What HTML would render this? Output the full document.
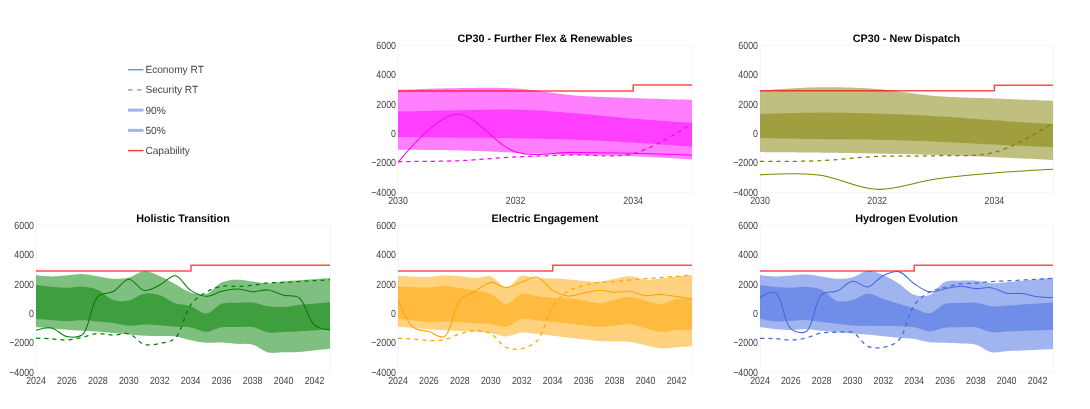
<!DOCTYPE html>
<html><head><meta charset="utf-8"><style>
html,body{margin:0;padding:0;background:#fff;overflow:hidden;}
svg{display:block;font-family:"Liberation Sans", sans-serif;} svg{will-change:transform;} text{text-rendering:geometricPrecision;}
</style></head><body>
<svg width="1090" height="409" viewBox="0 0 1090 409">
<clipPath id="c_ff"><rect x="398" y="39" width="294" height="153"/></clipPath>
<rect x="398.3" y="45.4" width="294" height="147" fill="none" stroke="#f5f5f5" stroke-width="1"/>
<g clip-path="url(#c_ff)"><path d="M398.00,89.90 L402.82,89.72 L407.49,89.55 L412.01,89.38 L416.37,89.23 L420.59,89.09 L424.64,88.95 L428.55,88.83 L432.30,88.72 L435.90,88.62 L439.34,88.52 L442.64,88.44 L445.77,88.36 L448.76,88.30 L451.59,88.25 L454.27,88.20 L456.80,88.17 L460.48,88.12 L464.15,88.07 L467.83,88.01 L471.50,87.96 L475.18,87.90 L478.86,87.86 L482.53,87.82 L486.21,87.80 L489.89,87.80 L493.56,87.81 L497.24,87.85 L500.91,87.92 L504.59,88.01 L508.26,88.14 L511.93,88.31 L515.60,88.51 L519.28,88.77 L522.96,89.09 L526.64,89.46 L530.31,89.88 L533.98,90.33 L537.66,90.81 L541.33,91.31 L545.00,91.83 L548.67,92.35 L552.35,92.86 L556.02,93.36 L559.69,93.85 L563.37,94.30 L567.04,94.73 L570.72,95.10 L574.40,95.43 L578.07,95.71 L581.74,95.97 L585.41,96.20 L589.09,96.41 L592.76,96.59 L596.44,96.76 L600.11,96.92 L603.79,97.06 L607.46,97.19 L611.14,97.32 L614.82,97.44 L618.49,97.56 L622.17,97.67 L625.85,97.79 L629.52,97.92 L633.20,98.05 L635.73,98.14 L638.41,98.24 L641.24,98.33 L644.22,98.43 L647.36,98.53 L650.65,98.64 L654.10,98.74 L657.70,98.85 L661.45,98.96 L665.35,99.07 L669.41,99.19 L673.62,99.31 L677.99,99.43 L682.51,99.55 L687.18,99.67 L692.00,99.80 L692.00,159.40 L687.18,159.10 L682.51,158.81 L677.99,158.53 L673.63,158.27 L669.42,158.02 L665.36,157.79 L661.45,157.57 L657.70,157.36 L654.10,157.17 L650.66,156.99 L647.37,156.82 L644.23,156.67 L641.24,156.53 L638.41,156.40 L635.73,156.29 L633.20,156.19 L629.53,156.06 L625.85,155.95 L622.18,155.86 L618.50,155.78 L614.83,155.71 L611.15,155.65 L607.48,155.59 L603.80,155.54 L600.13,155.49 L596.45,155.44 L592.77,155.39 L589.10,155.33 L585.42,155.27 L581.75,155.19 L578.07,155.10 L574.40,155.00 L570.72,154.88 L567.05,154.76 L563.37,154.63 L559.70,154.49 L556.02,154.35 L552.35,154.20 L548.67,154.05 L545.00,153.90 L541.32,153.74 L537.65,153.58 L533.97,153.42 L530.30,153.26 L526.62,153.11 L522.95,152.95 L519.27,152.80 L515.60,152.65 L511.93,152.50 L508.25,152.34 L504.58,152.18 L500.90,152.02 L497.23,151.86 L493.55,151.69 L489.88,151.53 L486.20,151.36 L482.53,151.21 L478.85,151.05 L475.18,150.91 L471.50,150.77 L467.83,150.64 L464.15,150.51 L460.48,150.41 L456.80,150.31 L454.27,150.25 L451.59,150.20 L448.76,150.15 L445.78,150.10 L442.64,150.06 L439.35,150.02 L435.90,149.98 L432.30,149.95 L428.55,149.91 L424.65,149.89 L420.59,149.86 L416.38,149.85 L412.01,149.83 L407.49,149.82 L402.82,149.81 L398.00,149.80Z" fill="rgba(255,0,255,0.5)"/><path d="M398.00,111.60 L402.82,111.48 L407.49,111.37 L412.01,111.26 L416.37,111.16 L420.59,111.06 L424.64,110.97 L428.55,110.88 L432.30,110.80 L435.90,110.72 L439.34,110.65 L442.64,110.58 L445.77,110.51 L448.76,110.46 L451.59,110.40 L454.27,110.35 L456.80,110.31 L460.47,110.24 L464.15,110.17 L467.83,110.08 L471.50,110.00 L475.18,109.91 L478.85,109.82 L482.53,109.74 L486.20,109.66 L489.88,109.59 L493.55,109.54 L497.23,109.50 L500.90,109.48 L504.58,109.48 L508.25,109.50 L511.93,109.54 L515.60,109.62 L519.28,109.72 L522.95,109.85 L526.63,110.00 L530.31,110.17 L533.98,110.36 L537.66,110.57 L541.33,110.80 L545.01,111.03 L548.68,111.28 L552.36,111.54 L556.03,111.81 L559.71,112.08 L563.38,112.36 L567.05,112.64 L570.73,112.93 L574.40,113.21 L578.08,113.50 L581.75,113.81 L585.43,114.13 L589.10,114.47 L592.78,114.81 L596.45,115.17 L600.13,115.53 L603.80,115.89 L607.48,116.25 L611.15,116.62 L614.82,116.98 L618.50,117.33 L622.17,117.68 L625.85,118.01 L629.52,118.34 L633.20,118.65 L635.73,118.86 L638.40,119.07 L641.24,119.29 L644.22,119.52 L647.36,119.76 L650.65,120.00 L654.10,120.26 L657.70,120.52 L661.45,120.79 L665.35,121.06 L669.41,121.35 L673.62,121.64 L677.99,121.94 L682.50,122.25 L687.18,122.57 L692.00,122.89 L692.00,146.70 L687.18,146.34 L682.51,146.00 L677.99,145.67 L673.63,145.35 L669.42,145.05 L665.36,144.76 L661.45,144.48 L657.70,144.22 L654.10,143.97 L650.66,143.73 L647.37,143.51 L644.23,143.30 L641.24,143.11 L638.41,142.93 L635.73,142.76 L633.20,142.61 L629.53,142.39 L625.85,142.18 L622.18,141.97 L618.50,141.76 L614.83,141.56 L611.15,141.36 L607.48,141.17 L603.80,140.98 L600.13,140.80 L596.45,140.62 L592.78,140.45 L589.10,140.28 L585.43,140.12 L581.75,139.97 L578.08,139.82 L574.40,139.68 L570.73,139.55 L567.05,139.42 L563.38,139.30 L559.70,139.19 L556.03,139.09 L552.35,138.99 L548.68,138.89 L545.00,138.80 L541.33,138.72 L537.65,138.64 L533.98,138.56 L530.30,138.49 L526.63,138.42 L522.95,138.35 L519.28,138.28 L515.60,138.22 L511.93,138.16 L508.25,138.10 L504.58,138.06 L500.90,138.01 L497.23,137.97 L493.55,137.94 L489.88,137.90 L486.20,137.87 L482.53,137.84 L478.85,137.82 L475.18,137.79 L471.50,137.76 L467.83,137.73 L464.15,137.70 L460.48,137.67 L456.80,137.63 L454.27,137.60 L451.59,137.58 L448.76,137.55 L445.77,137.51 L442.64,137.48 L439.34,137.45 L435.90,137.41 L432.30,137.37 L428.55,137.33 L424.64,137.29 L420.59,137.24 L416.37,137.20 L412.01,137.15 L407.49,137.10 L402.82,137.05 L398.00,137.00Z" fill="rgba(255,0,255,0.5)"/><polyline points="398.00,91.00 633.20,91.00 633.20,85.10 692.00,85.10" fill="none" stroke="#ff0000" stroke-opacity="0.7" stroke-width="1.5"/><path d="M398.00,162.43 Q436.76,115.50 456.80,114.32 C476.00,113.19 495.09,145.79 515.60,151.88 C534.43,157.47 554.80,152.16 574.40,152.40 C594.00,152.65 613.60,152.87 633.20,153.35 Q652.80,153.83 692.00,155.30" fill="none" stroke="rgb(255,0,255)" stroke-width="1.05"/><path d="M398.00,161.52 Q437.21,161.54 456.80,160.78 C476.41,160.02 495.99,157.95 515.60,156.98 C535.19,156.01 554.80,155.51 574.40,154.94 C594.00,154.37 614.13,158.38 633.20,153.55 Q653.40,148.44 692.00,123.51" fill="none" stroke="rgb(255,0,255)" stroke-width="1.25" stroke-dasharray="4.1,4.05"/></g>
<text x="545.0" y="42" text-anchor="middle" font-weight="bold" font-size="10.8" fill="#000">CP30 - Further Flex &amp; Renewables</text>
<text x="396" y="48.7" text-anchor="end" font-size="10.4" textLength="19.70" lengthAdjust="spacingAndGlyphs" fill="#444">6000</text>
<text x="396" y="78.1" text-anchor="end" font-size="10.4" textLength="19.70" lengthAdjust="spacingAndGlyphs" fill="#444">4000</text>
<text x="396" y="107.5" text-anchor="end" font-size="10.4" textLength="19.70" lengthAdjust="spacingAndGlyphs" fill="#444">2000</text>
<text x="396" y="136.9" text-anchor="end" font-size="10.4" textLength="4.93" lengthAdjust="spacingAndGlyphs" fill="#444">0</text>
<text x="396" y="166.3" text-anchor="end" font-size="10.4" textLength="24.87" lengthAdjust="spacingAndGlyphs" fill="#444">−2000</text>
<text x="396" y="195.7" text-anchor="end" font-size="10.4" textLength="24.87" lengthAdjust="spacingAndGlyphs" fill="#444">−4000</text>
<text x="398.0" y="204" text-anchor="middle" font-size="10.4" textLength="19.70" lengthAdjust="spacingAndGlyphs" fill="#444">2030</text>
<text x="515.6" y="204" text-anchor="middle" font-size="10.4" textLength="19.70" lengthAdjust="spacingAndGlyphs" fill="#444">2032</text>
<text x="633.2" y="204" text-anchor="middle" font-size="10.4" textLength="19.70" lengthAdjust="spacingAndGlyphs" fill="#444">2034</text>
<clipPath id="c_nd"><rect x="760" y="39" width="293" height="153"/></clipPath>
<rect x="760.3" y="45.4" width="293" height="147" fill="none" stroke="#f5f5f5" stroke-width="1"/>
<g clip-path="url(#c_nd)"><path d="M760.00,90.60 L764.81,90.23 L769.46,89.89 L773.96,89.56 L778.31,89.26 L782.51,88.98 L786.55,88.72 L790.44,88.48 L794.18,88.26 L797.77,88.06 L801.20,87.89 L804.48,87.74 L807.61,87.61 L810.59,87.50 L813.41,87.41 L816.08,87.34 L818.60,87.30 L822.26,87.26 L825.92,87.24 L829.59,87.23 L833.25,87.25 L836.92,87.28 L840.58,87.33 L844.25,87.41 L847.91,87.50 L851.57,87.61 L855.24,87.74 L858.90,87.90 L862.56,88.07 L866.22,88.27 L869.88,88.48 L873.54,88.72 L877.20,88.98 L880.87,89.28 L884.53,89.63 L888.20,90.03 L891.86,90.46 L895.52,90.92 L899.18,91.41 L902.84,91.91 L906.50,92.43 L910.16,92.94 L913.82,93.45 L917.48,93.94 L921.14,94.42 L924.80,94.87 L928.47,95.28 L932.13,95.66 L935.80,95.98 L939.46,96.26 L943.12,96.51 L946.78,96.73 L950.44,96.93 L954.10,97.11 L957.76,97.26 L961.42,97.41 L965.09,97.54 L968.75,97.66 L972.42,97.77 L976.08,97.89 L979.75,98.00 L983.41,98.11 L987.07,98.24 L990.74,98.37 L994.40,98.51 L996.92,98.61 L999.59,98.72 L1002.41,98.84 L1005.39,98.95 L1008.52,99.08 L1011.80,99.21 L1015.23,99.34 L1018.82,99.48 L1022.56,99.63 L1026.45,99.78 L1030.49,99.94 L1034.69,100.10 L1039.04,100.27 L1043.54,100.44 L1048.19,100.62 L1053.00,100.80 L1053.00,159.90 L1048.19,159.67 L1043.54,159.45 L1039.04,159.24 L1034.69,159.04 L1030.49,158.85 L1026.45,158.66 L1022.56,158.48 L1018.82,158.31 L1015.23,158.15 L1011.80,157.99 L1008.52,157.84 L1005.39,157.71 L1002.41,157.57 L999.59,157.45 L996.92,157.34 L994.40,157.23 L990.74,157.08 L987.08,156.92 L983.41,156.77 L979.75,156.61 L976.09,156.46 L972.43,156.31 L968.76,156.16 L965.10,156.01 L961.44,155.87 L957.78,155.73 L954.11,155.59 L950.45,155.46 L946.79,155.32 L943.13,155.20 L939.46,155.08 L935.80,154.96 L932.14,154.85 L928.48,154.74 L924.81,154.64 L921.15,154.54 L917.49,154.45 L913.83,154.36 L910.16,154.27 L906.50,154.19 L902.84,154.11 L899.18,154.03 L895.51,153.95 L891.85,153.88 L888.19,153.80 L884.53,153.73 L880.86,153.65 L877.20,153.58 L873.54,153.51 L869.88,153.44 L866.21,153.37 L862.55,153.30 L858.89,153.23 L855.23,153.17 L851.56,153.10 L847.90,153.04 L844.24,152.98 L840.58,152.92 L836.91,152.87 L833.25,152.81 L829.59,152.76 L825.93,152.71 L822.26,152.66 L818.60,152.61 L816.08,152.58 L813.41,152.55 L810.59,152.52 L807.61,152.49 L804.48,152.45 L801.20,152.42 L797.77,152.39 L794.18,152.36 L790.44,152.33 L786.55,152.30 L782.51,152.26 L778.31,152.23 L773.96,152.20 L769.46,152.17 L764.81,152.13 L760.00,152.10Z" fill="rgba(128,128,0,0.5)"/><path d="M760.00,114.00 L764.81,113.84 L769.46,113.69 L773.96,113.55 L778.31,113.41 L782.51,113.29 L786.55,113.18 L790.44,113.08 L794.18,112.99 L797.77,112.90 L801.20,112.83 L804.48,112.77 L807.61,112.71 L810.59,112.67 L813.41,112.64 L816.08,112.61 L818.60,112.60 L822.26,112.59 L825.92,112.60 L829.59,112.61 L833.25,112.64 L836.91,112.67 L840.58,112.72 L844.24,112.77 L847.90,112.84 L851.56,112.91 L855.23,112.98 L858.89,113.07 L862.55,113.16 L866.21,113.25 L869.88,113.36 L873.54,113.46 L877.20,113.57 L880.86,113.68 L884.53,113.81 L888.19,113.93 L891.85,114.07 L895.52,114.21 L899.18,114.36 L902.84,114.51 L906.50,114.67 L910.17,114.84 L913.83,115.01 L917.49,115.18 L921.15,115.37 L924.82,115.56 L928.48,115.75 L932.14,115.95 L935.80,116.16 L939.46,116.38 L943.13,116.60 L946.79,116.84 L950.45,117.09 L954.12,117.34 L957.78,117.60 L961.44,117.86 L965.10,118.13 L968.76,118.40 L972.43,118.68 L976.09,118.95 L979.75,119.22 L983.41,119.49 L987.07,119.75 L990.74,120.01 L994.40,120.26 L996.92,120.43 L999.59,120.61 L1002.41,120.80 L1005.39,121.00 L1008.52,121.20 L1011.80,121.42 L1015.23,121.65 L1018.82,121.88 L1022.55,122.13 L1026.45,122.38 L1030.49,122.64 L1034.69,122.92 L1039.04,123.20 L1043.54,123.49 L1048.19,123.79 L1053.00,124.10 L1053.00,147.20 L1048.19,146.99 L1043.54,146.79 L1039.04,146.59 L1034.69,146.40 L1030.49,146.22 L1026.45,146.04 L1022.55,145.87 L1018.82,145.70 L1015.23,145.54 L1011.80,145.39 L1008.52,145.24 L1005.39,145.10 L1002.41,144.96 L999.59,144.83 L996.92,144.71 L994.40,144.59 L990.74,144.41 L987.07,144.23 L983.41,144.05 L979.75,143.86 L976.09,143.66 L972.43,143.47 L968.76,143.28 L965.10,143.08 L961.44,142.89 L957.78,142.70 L954.11,142.51 L950.45,142.33 L946.79,142.15 L943.13,141.98 L939.46,141.82 L935.80,141.66 L932.14,141.51 L928.48,141.36 L924.81,141.22 L921.15,141.08 L917.49,140.94 L913.83,140.81 L910.16,140.68 L906.50,140.56 L902.84,140.44 L899.18,140.32 L895.51,140.21 L891.85,140.11 L888.19,140.01 L884.53,139.91 L880.86,139.82 L877.20,139.74 L873.54,139.67 L869.88,139.60 L866.21,139.55 L862.55,139.50 L858.89,139.46 L855.23,139.42 L851.56,139.39 L847.90,139.36 L844.24,139.34 L840.58,139.31 L836.91,139.28 L833.25,139.26 L829.59,139.22 L825.92,139.19 L822.26,139.15 L818.60,139.10 L816.08,139.06 L813.41,139.02 L810.59,138.98 L807.61,138.93 L804.48,138.88 L801.20,138.83 L797.77,138.77 L794.18,138.71 L790.44,138.65 L786.55,138.58 L782.51,138.51 L778.31,138.43 L773.96,138.36 L769.46,138.27 L764.81,138.19 L760.00,138.10Z" fill="rgba(128,128,0,0.5)"/><polyline points="760.00,90.80 994.40,90.80 994.40,85.20 1053.00,85.20" fill="none" stroke="#ff0000" stroke-opacity="0.7" stroke-width="1.5"/><path d="M760.00,174.82 Q799.21,172.69 818.60,175.06 C838.28,177.46 857.60,188.72 877.20,189.34 C896.67,189.96 916.22,181.70 935.80,178.96 C955.28,176.23 974.85,174.53 994.40,172.90 Q1013.92,171.28 1053.00,169.20" fill="none" stroke="rgb(128,128,0)" stroke-width="1.05"/><path d="M760.00,161.32 Q799.08,161.57 818.60,160.75 C838.15,159.93 857.65,157.22 877.20,156.39 C896.72,155.56 916.27,156.42 935.80,155.74 C955.34,155.06 975.37,157.39 994.40,152.33 Q1014.50,146.98 1053.00,123.14" fill="none" stroke="rgb(128,128,0)" stroke-width="1.25" stroke-dasharray="4.1,4.05"/></g>
<text x="906.5" y="42" text-anchor="middle" font-weight="bold" font-size="10.8" fill="#000">CP30 - New Dispatch</text>
<text x="758" y="48.7" text-anchor="end" font-size="10.4" textLength="19.70" lengthAdjust="spacingAndGlyphs" fill="#444">6000</text>
<text x="758" y="78.1" text-anchor="end" font-size="10.4" textLength="19.70" lengthAdjust="spacingAndGlyphs" fill="#444">4000</text>
<text x="758" y="107.5" text-anchor="end" font-size="10.4" textLength="19.70" lengthAdjust="spacingAndGlyphs" fill="#444">2000</text>
<text x="758" y="136.9" text-anchor="end" font-size="10.4" textLength="4.93" lengthAdjust="spacingAndGlyphs" fill="#444">0</text>
<text x="758" y="166.3" text-anchor="end" font-size="10.4" textLength="24.87" lengthAdjust="spacingAndGlyphs" fill="#444">−2000</text>
<text x="758" y="195.7" text-anchor="end" font-size="10.4" textLength="24.87" lengthAdjust="spacingAndGlyphs" fill="#444">−4000</text>
<text x="760.0" y="204" text-anchor="middle" font-size="10.4" textLength="19.70" lengthAdjust="spacingAndGlyphs" fill="#444">2030</text>
<text x="877.2" y="204" text-anchor="middle" font-size="10.4" textLength="19.70" lengthAdjust="spacingAndGlyphs" fill="#444">2032</text>
<text x="994.4" y="204" text-anchor="middle" font-size="10.4" textLength="19.70" lengthAdjust="spacingAndGlyphs" fill="#444">2034</text>
<clipPath id="c_ht"><rect x="36" y="219" width="294" height="153"/></clipPath>
<rect x="36.3" y="225.4" width="294" height="147" fill="none" stroke="#f5f5f5" stroke-width="1"/>
<g clip-path="url(#c_ht)"><path d="M36.00,275.10 L37.27,275.26 L38.50,275.40 L39.69,275.54 L40.84,275.67 L41.94,275.79 L43.01,275.89 L44.04,275.99 L45.03,276.08 L45.97,276.16 L46.88,276.23 L47.75,276.29 L48.57,276.33 L49.36,276.37 L50.10,276.40 L50.81,276.42 L51.47,276.43 L52.44,276.43 L53.41,276.41 L54.37,276.37 L55.34,276.32 L56.31,276.26 L57.28,276.19 L58.24,276.11 L59.21,276.02 L60.18,275.93 L61.14,275.84 L62.11,275.74 L63.08,275.64 L64.05,275.55 L65.01,275.46 L65.98,275.38 L66.95,275.30 L67.91,275.22 L68.88,275.13 L69.85,275.03 L70.82,274.93 L71.78,274.82 L72.75,274.71 L73.72,274.60 L74.69,274.50 L75.66,274.40 L76.62,274.31 L77.59,274.24 L78.56,274.18 L79.52,274.13 L80.49,274.10 L81.46,274.10 L82.42,274.12 L83.39,274.17 L84.36,274.24 L85.33,274.33 L86.29,274.44 L87.26,274.56 L88.23,274.71 L89.20,274.86 L90.16,275.02 L91.13,275.19 L92.10,275.37 L93.06,275.54 L94.03,275.72 L94.99,275.89 L95.96,276.06 L96.93,276.22 L97.89,276.37 L98.86,276.52 L99.83,276.69 L100.80,276.86 L101.76,277.04 L102.73,277.23 L103.70,277.41 L104.66,277.60 L105.63,277.78 L106.59,277.95 L107.56,278.12 L108.53,278.27 L109.50,278.41 L110.46,278.53 L111.43,278.63 L112.40,278.70 L113.37,278.75 L114.33,278.78 L115.30,278.80 L116.27,278.81 L117.24,278.80 L118.22,278.78 L119.19,278.75 L120.16,278.70 L121.13,278.64 L122.11,278.56 L123.08,278.47 L124.04,278.36 L125.01,278.23 L125.97,278.07 L126.93,277.90 L127.89,277.71 L128.84,277.50 L129.82,277.23 L130.80,276.89 L131.78,276.48 L132.75,276.04 L133.71,275.55 L134.68,275.05 L135.64,274.53 L136.60,274.01 L137.56,273.50 L138.52,273.02 L139.48,272.57 L140.44,272.17 L141.41,271.83 L142.37,271.56 L143.34,271.37 L144.32,271.28 L145.28,271.28 L146.24,271.34 L147.21,271.46 L148.18,271.64 L149.15,271.87 L150.13,272.14 L151.10,272.45 L152.07,272.80 L153.05,273.17 L154.02,273.56 L154.99,273.97 L155.96,274.39 L156.92,274.81 L157.88,275.23 L158.84,275.64 L159.79,276.04 L160.77,276.46 L161.75,276.90 L162.73,277.36 L163.70,277.84 L164.67,278.33 L165.64,278.84 L166.60,279.36 L167.57,279.89 L168.53,280.42 L169.49,280.96 L170.45,281.50 L171.41,282.04 L172.37,282.58 L173.33,283.12 L174.30,283.64 L175.26,284.16 L176.23,284.69 L177.19,285.24 L178.15,285.80 L179.11,286.38 L180.07,286.97 L181.02,287.56 L181.98,288.14 L182.94,288.72 L183.90,289.29 L184.86,289.83 L185.83,290.36 L186.80,290.85 L187.77,291.31 L188.76,291.73 L189.74,292.10 L190.74,292.43 L191.68,292.71 L192.64,292.98 L193.60,293.23 L194.58,293.48 L195.56,293.70 L196.54,293.90 L197.52,294.07 L198.51,294.21 L199.50,294.32 L200.48,294.39 L201.45,294.42 L202.43,294.41 L203.39,294.35 L204.34,294.23 L205.28,294.07 L206.21,293.84 L207.22,293.49 L208.22,293.01 L209.20,292.42 L210.17,291.75 L211.12,291.00 L212.07,290.19 L213.01,289.33 L213.95,288.45 L214.89,287.57 L215.84,286.68 L216.78,285.83 L217.74,285.01 L218.70,284.24 L219.68,283.55 L220.67,282.95 L221.68,282.45 L222.61,282.07 L223.55,281.73 L224.50,281.41 L225.45,281.13 L226.41,280.88 L227.38,280.66 L228.35,280.47 L229.33,280.30 L230.31,280.15 L231.29,280.03 L232.27,279.92 L233.25,279.84 L234.23,279.77 L235.21,279.71 L236.19,279.67 L237.16,279.64 L238.12,279.63 L239.09,279.66 L240.05,279.72 L241.02,279.81 L241.99,279.92 L242.95,280.05 L243.92,280.19 L244.89,280.35 L245.86,280.52 L246.82,280.69 L247.79,280.86 L248.76,281.03 L249.73,281.20 L250.70,281.35 L251.66,281.49 L252.63,281.61 L253.60,281.73 L254.56,281.85 L255.53,281.98 L256.50,282.11 L257.47,282.25 L258.43,282.38 L259.40,282.51 L260.37,282.64 L261.33,282.76 L262.30,282.87 L263.27,282.96 L264.24,283.05 L265.20,283.11 L266.17,283.16 L267.14,283.19 L268.11,283.20 L269.07,283.18 L270.04,283.14 L271.01,283.07 L271.97,282.98 L272.94,282.88 L273.91,282.76 L274.87,282.63 L275.84,282.49 L276.81,282.35 L277.77,282.21 L278.74,282.06 L279.71,281.92 L280.68,281.78 L281.64,281.66 L282.61,281.54 L283.58,281.44 L284.55,281.35 L285.51,281.26 L286.48,281.18 L287.45,281.10 L288.41,281.02 L289.38,280.95 L290.35,280.87 L291.31,280.80 L292.28,280.73 L293.25,280.66 L294.22,280.59 L295.18,280.52 L296.15,280.45 L297.12,280.38 L298.09,280.31 L299.05,280.24 L300.02,280.17 L300.99,280.10 L301.95,280.03 L302.92,279.95 L303.89,279.88 L304.86,279.81 L305.82,279.74 L306.79,279.68 L307.76,279.61 L308.72,279.54 L309.69,279.47 L310.66,279.40 L311.62,279.33 L312.59,279.26 L313.56,279.19 L314.53,279.12 L315.19,279.07 L315.90,279.02 L316.64,278.97 L317.43,278.91 L318.25,278.85 L319.12,278.79 L320.03,278.72 L320.97,278.65 L321.96,278.58 L322.99,278.51 L324.06,278.43 L325.16,278.35 L326.31,278.27 L327.50,278.18 L328.73,278.09 L330.00,278.00 L330.00,348.64 L328.73,348.78 L327.50,348.91 L326.31,349.04 L325.16,349.16 L324.06,349.29 L322.99,349.40 L321.96,349.51 L320.97,349.62 L320.03,349.72 L319.12,349.82 L318.25,349.92 L317.43,350.01 L316.64,350.09 L315.90,350.17 L315.19,350.25 L314.53,350.32 L313.56,350.43 L312.59,350.54 L311.63,350.66 L310.66,350.77 L309.69,350.89 L308.73,351.02 L307.76,351.13 L306.79,351.25 L305.83,351.37 L304.86,351.48 L303.89,351.58 L302.92,351.68 L301.96,351.78 L300.99,351.86 L300.02,351.94 L299.05,352.00 L298.09,352.05 L297.12,352.10 L296.15,352.13 L295.19,352.15 L294.22,352.17 L293.25,352.18 L292.29,352.19 L291.32,352.19 L290.35,352.19 L289.38,352.19 L288.42,352.19 L287.45,352.18 L286.48,352.18 L285.51,352.19 L284.55,352.19 L283.58,352.20 L282.61,352.23 L281.64,352.27 L280.67,352.34 L279.69,352.42 L278.72,352.51 L277.74,352.60 L276.77,352.68 L275.79,352.76 L274.82,352.82 L273.85,352.86 L272.88,352.88 L271.92,352.86 L270.96,352.81 L270.00,352.72 L269.05,352.59 L268.11,352.40 L267.11,352.13 L266.13,351.78 L265.16,351.35 L264.19,350.88 L263.23,350.35 L262.28,349.79 L261.32,349.20 L260.37,348.60 L259.41,348.00 L258.46,347.41 L257.50,346.83 L256.54,346.29 L255.58,345.79 L254.60,345.35 L253.62,344.97 L252.63,344.66 L251.69,344.43 L250.74,344.25 L249.78,344.12 L248.82,344.01 L247.86,343.94 L246.89,343.90 L245.92,343.87 L244.94,343.86 L243.97,343.87 L242.99,343.88 L242.02,343.89 L241.04,343.90 L240.07,343.90 L239.10,343.88 L238.13,343.85 L237.16,343.80 L236.19,343.73 L235.22,343.65 L234.26,343.56 L233.29,343.47 L232.32,343.38 L231.36,343.28 L230.39,343.19 L229.42,343.09 L228.45,343.00 L227.49,342.91 L226.52,342.82 L225.55,342.74 L224.59,342.67 L223.62,342.61 L222.65,342.56 L221.68,342.52 L220.72,342.50 L219.75,342.49 L218.78,342.51 L217.82,342.53 L216.85,342.57 L215.88,342.61 L214.91,342.66 L213.94,342.71 L212.97,342.75 L212.01,342.79 L211.04,342.82 L210.07,342.84 L209.11,342.85 L208.14,342.83 L207.17,342.80 L206.21,342.74 L205.24,342.66 L204.27,342.57 L203.30,342.46 L202.33,342.33 L201.36,342.20 L200.39,342.05 L199.43,341.90 L198.46,341.73 L197.49,341.56 L196.53,341.38 L195.56,341.19 L194.59,341.00 L193.63,340.81 L192.66,340.61 L191.70,340.42 L190.74,340.22 L189.77,340.01 L188.80,339.78 L187.83,339.53 L186.86,339.28 L185.90,339.01 L184.93,338.73 L183.97,338.45 L183.01,338.18 L182.04,337.91 L181.08,337.64 L180.11,337.39 L179.14,337.15 L178.18,336.93 L177.21,336.73 L176.24,336.56 L175.26,336.41 L174.30,336.29 L173.34,336.20 L172.38,336.13 L171.41,336.08 L170.44,336.05 L169.48,336.03 L168.51,336.02 L167.54,336.02 L166.57,336.02 L165.60,336.03 L164.63,336.05 L163.66,336.06 L162.69,336.07 L161.73,336.07 L160.76,336.07 L159.79,336.05 L158.82,336.03 L157.86,336.01 L156.89,336.00 L155.92,335.99 L154.95,335.97 L153.99,335.96 L153.02,335.95 L152.05,335.94 L151.08,335.92 L150.12,335.91 L149.15,335.89 L148.18,335.86 L147.22,335.84 L146.25,335.80 L145.28,335.76 L144.32,335.72 L143.35,335.67 L142.38,335.61 L141.41,335.55 L140.45,335.49 L139.48,335.42 L138.51,335.34 L137.54,335.27 L136.58,335.19 L135.61,335.11 L134.64,335.02 L133.68,334.94 L132.71,334.85 L131.74,334.77 L130.78,334.68 L129.81,334.60 L128.84,334.51 L127.87,334.42 L126.91,334.33 L125.94,334.24 L124.97,334.15 L124.01,334.05 L123.04,333.96 L122.07,333.86 L121.10,333.76 L120.14,333.67 L119.17,333.57 L118.20,333.47 L117.24,333.37 L116.27,333.28 L115.30,333.18 L114.34,333.09 L113.37,333.00 L112.40,332.91 L111.43,332.82 L110.47,332.73 L109.50,332.64 L108.53,332.56 L107.57,332.47 L106.60,332.38 L105.63,332.29 L104.67,332.21 L103.70,332.13 L102.73,332.04 L101.76,331.96 L100.80,331.88 L99.83,331.81 L98.86,331.73 L97.89,331.66 L96.93,331.59 L95.96,331.52 L94.99,331.46 L94.03,331.40 L93.06,331.34 L92.09,331.28 L91.13,331.23 L90.16,331.17 L89.19,331.12 L88.22,331.06 L87.26,331.01 L86.29,330.96 L85.32,330.90 L84.36,330.85 L83.39,330.79 L82.42,330.73 L81.45,330.67 L80.49,330.61 L79.52,330.55 L78.55,330.50 L77.59,330.44 L76.62,330.38 L75.65,330.32 L74.68,330.26 L73.72,330.20 L72.75,330.14 L71.78,330.08 L70.81,330.02 L69.85,329.95 L68.88,329.89 L67.91,329.82 L66.95,329.75 L65.98,329.68 L65.01,329.60 L64.05,329.53 L63.08,329.45 L62.11,329.37 L61.14,329.28 L60.18,329.20 L59.21,329.12 L58.24,329.03 L57.28,328.95 L56.31,328.86 L55.34,328.78 L54.37,328.69 L53.41,328.61 L52.44,328.52 L51.47,328.44 L50.81,328.38 L50.10,328.32 L49.36,328.26 L48.57,328.19 L47.75,328.12 L46.88,328.04 L45.97,327.97 L45.03,327.88 L44.04,327.80 L43.01,327.71 L41.94,327.62 L40.84,327.52 L39.69,327.42 L38.50,327.32 L37.27,327.21 L36.00,327.10Z" fill="rgba(0,128,0,0.5)"/><path d="M36.00,284.70 L37.27,284.89 L38.50,285.07 L39.68,285.24 L40.83,285.40 L41.94,285.55 L43.01,285.70 L44.03,285.84 L45.02,285.97 L45.97,286.09 L46.88,286.21 L47.74,286.32 L48.57,286.41 L49.36,286.51 L50.10,286.59 L50.81,286.66 L51.47,286.73 L52.44,286.82 L53.41,286.92 L54.37,287.01 L55.34,287.10 L56.31,287.18 L57.27,287.26 L58.24,287.34 L59.21,287.41 L60.18,287.48 L61.14,287.53 L62.11,287.59 L63.08,287.63 L64.05,287.66 L65.01,287.69 L65.98,287.71 L66.95,287.71 L67.91,287.69 L68.88,287.65 L69.85,287.58 L70.82,287.50 L71.79,287.40 L72.76,287.29 L73.72,287.18 L74.69,287.06 L75.66,286.96 L76.63,286.85 L77.60,286.77 L78.56,286.70 L79.53,286.65 L80.49,286.63 L81.46,286.64 L82.42,286.69 L83.39,286.76 L84.37,286.85 L85.35,286.94 L86.33,287.05 L87.31,287.18 L88.28,287.32 L89.26,287.47 L90.24,287.65 L91.21,287.85 L92.18,288.06 L93.15,288.30 L94.11,288.57 L95.07,288.86 L96.02,289.17 L96.96,289.52 L97.89,289.89 L98.90,290.36 L99.88,290.90 L100.86,291.52 L101.82,292.20 L102.78,292.92 L103.73,293.67 L104.67,294.44 L105.62,295.21 L106.56,295.98 L107.51,296.73 L108.46,297.45 L109.42,298.13 L110.39,298.74 L111.37,299.29 L112.36,299.75 L113.37,300.12 L114.30,300.39 L115.25,300.61 L116.20,300.80 L117.16,300.95 L118.13,301.07 L119.11,301.15 L120.08,301.20 L121.07,301.21 L122.05,301.20 L123.03,301.16 L124.01,301.09 L124.99,301.00 L125.96,300.88 L126.93,300.74 L127.89,300.58 L128.84,300.40 L129.83,300.16 L130.81,299.84 L131.78,299.46 L132.74,299.01 L133.71,298.53 L134.67,298.01 L135.63,297.48 L136.58,296.93 L137.54,296.39 L138.50,295.86 L139.46,295.36 L140.42,294.89 L141.38,294.48 L142.35,294.12 L143.33,293.84 L144.32,293.64 L145.27,293.51 L146.23,293.42 L147.19,293.37 L148.16,293.35 L149.13,293.37 L150.11,293.42 L151.09,293.49 L152.07,293.60 L153.04,293.73 L154.02,293.89 L154.99,294.07 L155.96,294.27 L156.93,294.50 L157.89,294.74 L158.84,295.00 L159.79,295.27 L160.78,295.60 L161.76,295.99 L162.74,296.44 L163.70,296.93 L164.67,297.46 L165.62,298.02 L166.58,298.59 L167.53,299.18 L168.49,299.77 L169.44,300.35 L170.40,300.92 L171.36,301.46 L172.32,301.98 L173.30,302.45 L174.28,302.88 L175.26,303.25 L176.21,303.55 L177.17,303.80 L178.13,304.01 L179.09,304.19 L180.07,304.34 L181.04,304.48 L182.02,304.59 L182.99,304.70 L183.97,304.82 L184.95,304.93 L185.92,305.06 L186.90,305.20 L187.86,305.38 L188.83,305.58 L189.79,305.82 L190.74,306.10 L191.72,306.47 L192.71,306.92 L193.69,307.44 L194.66,308.02 L195.64,308.63 L196.61,309.27 L197.58,309.91 L198.55,310.54 L199.51,311.16 L200.47,311.73 L201.43,312.25 L202.39,312.70 L203.35,313.06 L204.30,313.32 L205.26,313.47 L206.21,313.49 L207.19,313.35 L208.16,313.06 L209.12,312.64 L210.08,312.10 L211.04,311.47 L211.99,310.76 L212.94,310.00 L213.89,309.20 L214.85,308.39 L215.80,307.57 L216.76,306.78 L217.73,306.04 L218.71,305.35 L219.69,304.74 L220.68,304.23 L221.68,303.84 L222.62,303.57 L223.56,303.35 L224.51,303.18 L225.47,303.04 L226.43,302.95 L227.40,302.88 L228.37,302.85 L229.35,302.83 L230.32,302.83 L231.30,302.84 L232.28,302.86 L233.26,302.88 L234.24,302.89 L235.22,302.90 L236.19,302.89 L237.16,302.86 L238.12,302.82 L239.09,302.77 L240.06,302.71 L241.03,302.65 L242.00,302.59 L242.97,302.54 L243.94,302.49 L244.91,302.44 L245.88,302.40 L246.84,302.38 L247.81,302.37 L248.78,302.37 L249.74,302.39 L250.71,302.43 L251.67,302.50 L252.63,302.59 L253.60,302.72 L254.57,302.88 L255.54,303.07 L256.51,303.29 L257.48,303.54 L258.44,303.80 L259.41,304.07 L260.37,304.35 L261.33,304.64 L262.30,304.92 L263.26,305.19 L264.23,305.45 L265.19,305.69 L266.16,305.91 L267.13,306.09 L268.11,306.25 L269.07,306.38 L270.03,306.50 L271.00,306.61 L271.96,306.70 L272.93,306.79 L273.90,306.87 L274.86,306.93 L275.83,306.98 L276.80,307.02 L277.77,307.05 L278.74,307.07 L279.71,307.08 L280.68,307.08 L281.65,307.06 L282.61,307.04 L283.58,307.00 L284.55,306.95 L285.52,306.87 L286.48,306.77 L287.45,306.65 L288.42,306.52 L289.38,306.38 L290.35,306.23 L291.32,306.07 L292.28,305.91 L293.25,305.74 L294.22,305.58 L295.18,305.42 L296.15,305.27 L297.12,305.13 L298.08,305.00 L299.05,304.88 L300.02,304.78 L300.98,304.68 L301.95,304.59 L302.92,304.50 L303.88,304.42 L304.85,304.34 L305.82,304.26 L306.79,304.18 L307.75,304.11 L308.72,304.04 L309.69,303.96 L310.66,303.89 L311.62,303.82 L312.59,303.74 L313.56,303.66 L314.53,303.58 L315.19,303.52 L315.90,303.46 L316.64,303.40 L317.43,303.33 L318.25,303.25 L319.12,303.18 L320.03,303.10 L320.97,303.01 L321.96,302.92 L322.99,302.83 L324.06,302.74 L325.16,302.64 L326.31,302.53 L327.50,302.43 L328.73,302.31 L330.00,302.20 L330.00,329.26 L328.73,329.35 L327.50,329.43 L326.31,329.51 L325.16,329.59 L324.06,329.67 L322.99,329.74 L321.96,329.82 L320.97,329.88 L320.03,329.95 L319.12,330.01 L318.25,330.07 L317.43,330.13 L316.64,330.18 L315.90,330.24 L315.19,330.28 L314.53,330.33 L313.56,330.40 L312.59,330.47 L311.63,330.54 L310.66,330.61 L309.69,330.68 L308.72,330.76 L307.76,330.83 L306.79,330.90 L305.82,330.97 L304.86,331.04 L303.89,331.11 L302.92,331.17 L301.95,331.23 L300.99,331.29 L300.02,331.35 L299.05,331.40 L298.09,331.45 L297.12,331.49 L296.15,331.53 L295.19,331.56 L294.22,331.60 L293.25,331.63 L292.28,331.66 L291.32,331.69 L290.35,331.71 L289.38,331.74 L288.41,331.76 L287.45,331.79 L286.48,331.81 L285.51,331.84 L284.55,331.87 L283.58,331.90 L282.61,331.94 L281.64,332.00 L280.67,332.07 L279.70,332.16 L278.73,332.25 L277.76,332.33 L276.79,332.42 L275.82,332.50 L274.85,332.57 L273.88,332.62 L272.91,332.66 L271.94,332.67 L270.98,332.65 L270.02,332.61 L269.06,332.52 L268.11,332.40 L267.13,332.22 L266.15,331.98 L265.18,331.69 L264.22,331.35 L263.25,330.98 L262.29,330.59 L261.33,330.17 L260.37,329.75 L259.41,329.33 L258.45,328.91 L257.49,328.51 L256.52,328.14 L255.55,327.79 L254.58,327.49 L253.61,327.24 L252.63,327.04 L251.68,326.90 L250.72,326.79 L249.76,326.72 L248.79,326.68 L247.83,326.66 L246.86,326.66 L245.89,326.68 L244.92,326.71 L243.95,326.75 L242.98,326.80 L242.01,326.86 L241.04,326.91 L240.07,326.96 L239.09,327.00 L238.13,327.03 L237.16,327.05 L236.19,327.05 L235.22,327.04 L234.25,327.02 L233.28,326.99 L232.31,326.96 L231.34,326.94 L230.37,326.91 L229.40,326.89 L228.43,326.88 L227.46,326.88 L226.50,326.89 L225.53,326.92 L224.57,326.97 L223.60,327.05 L222.64,327.15 L221.68,327.28 L220.71,327.46 L219.73,327.70 L218.76,327.99 L217.79,328.32 L216.83,328.68 L215.86,329.06 L214.89,329.46 L213.93,329.85 L212.96,330.23 L212.00,330.60 L211.04,330.93 L210.07,331.23 L209.11,331.48 L208.14,331.67 L207.18,331.79 L206.21,331.84 L205.24,331.80 L204.28,331.69 L203.31,331.52 L202.35,331.28 L201.39,331.00 L200.42,330.68 L199.46,330.33 L198.49,329.97 L197.53,329.59 L196.56,329.21 L195.60,328.84 L194.63,328.49 L193.66,328.16 L192.69,327.87 L191.71,327.63 L190.74,327.44 L189.78,327.30 L188.82,327.19 L187.85,327.10 L186.89,327.03 L185.92,326.98 L184.95,326.95 L183.99,326.93 L183.02,326.91 L182.05,326.91 L181.08,326.90 L180.11,326.90 L179.14,326.89 L178.17,326.87 L177.20,326.85 L176.23,326.81 L175.26,326.75 L174.30,326.68 L173.33,326.61 L172.36,326.52 L171.39,326.44 L170.43,326.35 L169.46,326.25 L168.49,326.16 L167.53,326.06 L166.56,325.96 L165.59,325.87 L164.63,325.77 L163.66,325.68 L162.69,325.59 L161.72,325.51 L160.76,325.43 L159.79,325.36 L158.82,325.29 L157.86,325.22 L156.89,325.15 L155.92,325.08 L154.96,325.02 L153.99,324.95 L153.02,324.89 L152.05,324.83 L151.09,324.77 L150.12,324.72 L149.15,324.68 L148.18,324.65 L147.22,324.62 L146.25,324.60 L145.28,324.60 L144.32,324.60 L143.35,324.62 L142.38,324.67 L141.41,324.74 L140.44,324.82 L139.48,324.92 L138.51,325.03 L137.54,325.13 L136.57,325.25 L135.61,325.35 L134.64,325.45 L133.67,325.54 L132.70,325.61 L131.74,325.66 L130.77,325.69 L129.81,325.69 L128.84,325.66 L127.87,325.60 L126.90,325.50 L125.94,325.38 L124.97,325.24 L124.00,325.07 L123.04,324.89 L122.07,324.70 L121.10,324.50 L120.14,324.30 L119.17,324.09 L118.21,323.89 L117.24,323.69 L116.27,323.50 L115.31,323.33 L114.34,323.17 L113.37,323.03 L112.40,322.91 L111.44,322.79 L110.47,322.69 L109.51,322.58 L108.54,322.49 L107.57,322.40 L106.60,322.31 L105.64,322.23 L104.67,322.15 L103.70,322.07 L102.73,321.99 L101.77,321.91 L100.80,321.83 L99.83,321.75 L98.86,321.67 L97.89,321.58 L96.93,321.49 L95.96,321.39 L94.99,321.28 L94.03,321.17 L93.06,321.06 L92.09,320.94 L91.13,320.83 L90.16,320.72 L89.19,320.62 L88.23,320.52 L87.26,320.43 L86.29,320.35 L85.32,320.29 L84.36,320.23 L83.39,320.19 L82.42,320.17 L81.45,320.17 L80.49,320.19 L79.52,320.23 L78.55,320.29 L77.59,320.36 L76.62,320.44 L75.65,320.53 L74.69,320.62 L73.72,320.72 L72.75,320.81 L71.78,320.90 L70.82,320.97 L69.85,321.04 L68.88,321.09 L67.91,321.12 L66.95,321.13 L65.98,321.12 L65.01,321.10 L64.05,321.07 L63.08,321.02 L62.11,320.97 L61.14,320.90 L60.18,320.84 L59.21,320.76 L58.24,320.68 L57.28,320.60 L56.31,320.52 L55.34,320.44 L54.37,320.35 L53.41,320.27 L52.44,320.20 L51.47,320.13 L50.81,320.08 L50.10,320.03 L49.36,319.98 L48.57,319.93 L47.75,319.87 L46.88,319.80 L45.97,319.74 L45.03,319.67 L44.04,319.60 L43.01,319.52 L41.94,319.44 L40.84,319.36 L39.69,319.28 L38.50,319.19 L37.27,319.10 L36.00,319.00Z" fill="rgba(0,128,0,0.5)"/><polyline points="36.00,270.90 191.00,270.90 191.00,265.30 330.00,265.30" fill="none" stroke="#ff0000" stroke-opacity="0.7" stroke-width="1.5"/><path d="M36.00,330.30 Q46.46,327.10 51.47,328.00 C56.80,328.96 61.62,335.50 66.95,336.52 C71.95,337.48 78.02,337.97 82.42,334.59 C89.56,329.11 90.88,303.13 97.89,296.59 C102.31,292.47 108.44,294.18 113.37,291.53 C118.80,288.61 123.64,279.39 128.84,279.27 C133.96,279.15 138.95,289.64 144.32,290.41 C149.29,291.12 154.74,287.30 159.79,284.94 C165.07,282.47 170.30,275.23 175.26,275.78 C180.66,276.38 185.21,286.91 190.74,290.38 C195.61,293.45 201.03,296.18 206.21,296.32 C211.34,296.46 216.48,292.53 221.68,291.31 C226.79,290.11 232.00,288.96 237.16,289.02 C242.32,289.08 247.46,291.50 252.63,291.65 C257.78,291.80 263.01,289.38 268.11,289.94 C273.33,290.52 278.36,293.94 283.58,295.24 C288.68,296.51 294.52,294.55 299.05,297.70 C305.47,302.16 308.18,320.04 314.53,325.14 Q319.07,328.80 330.00,329.88" fill="none" stroke="rgb(0,128,0)" stroke-width="1.05"/><path d="M36.00,338.10 Q46.32,338.49 51.47,338.80 C56.63,339.11 61.81,340.24 66.95,339.98 C72.12,339.72 77.28,338.26 82.42,337.19 C87.59,336.11 92.71,333.87 97.89,333.53 C103.02,333.20 108.21,335.09 113.37,335.13 C118.52,335.17 123.91,332.46 128.84,333.76 C134.27,335.18 138.89,342.88 144.32,344.39 C149.25,345.76 154.70,344.49 159.79,343.46 C165.02,342.40 170.79,342.04 175.26,337.97 C181.94,331.90 184.54,312.79 190.74,304.79 C195.32,298.87 200.78,295.18 206.21,292.06 C211.14,289.22 216.44,287.23 221.68,286.32 C226.76,285.44 232.00,286.65 237.16,286.48 C242.32,286.31 247.49,285.91 252.63,285.31 C257.80,284.71 262.93,283.34 268.11,282.87 C273.25,282.40 278.42,282.71 283.58,282.49 C288.74,282.27 293.89,281.84 299.05,281.53 C304.21,281.22 309.37,280.92 314.53,280.61 Q319.68,280.31 330.00,279.70" fill="none" stroke="rgb(0,128,0)" stroke-width="1.25" stroke-dasharray="4.1,4.05"/></g>
<text x="183.0" y="222" text-anchor="middle" font-weight="bold" font-size="10.8" fill="#000">Holistic Transition</text>
<text x="34" y="228.7" text-anchor="end" font-size="10.4" textLength="19.70" lengthAdjust="spacingAndGlyphs" fill="#444">6000</text>
<text x="34" y="258.1" text-anchor="end" font-size="10.4" textLength="19.70" lengthAdjust="spacingAndGlyphs" fill="#444">4000</text>
<text x="34" y="287.5" text-anchor="end" font-size="10.4" textLength="19.70" lengthAdjust="spacingAndGlyphs" fill="#444">2000</text>
<text x="34" y="316.9" text-anchor="end" font-size="10.4" textLength="4.93" lengthAdjust="spacingAndGlyphs" fill="#444">0</text>
<text x="34" y="346.3" text-anchor="end" font-size="10.4" textLength="24.87" lengthAdjust="spacingAndGlyphs" fill="#444">−2000</text>
<text x="34" y="375.7" text-anchor="end" font-size="10.4" textLength="24.87" lengthAdjust="spacingAndGlyphs" fill="#444">−4000</text>
<text x="36.0" y="384" text-anchor="middle" font-size="10.4" textLength="19.70" lengthAdjust="spacingAndGlyphs" fill="#444">2024</text>
<text x="66.9" y="384" text-anchor="middle" font-size="10.4" textLength="19.70" lengthAdjust="spacingAndGlyphs" fill="#444">2026</text>
<text x="97.9" y="384" text-anchor="middle" font-size="10.4" textLength="19.70" lengthAdjust="spacingAndGlyphs" fill="#444">2028</text>
<text x="128.8" y="384" text-anchor="middle" font-size="10.4" textLength="19.70" lengthAdjust="spacingAndGlyphs" fill="#444">2030</text>
<text x="159.8" y="384" text-anchor="middle" font-size="10.4" textLength="19.70" lengthAdjust="spacingAndGlyphs" fill="#444">2032</text>
<text x="190.7" y="384" text-anchor="middle" font-size="10.4" textLength="19.70" lengthAdjust="spacingAndGlyphs" fill="#444">2034</text>
<text x="221.7" y="384" text-anchor="middle" font-size="10.4" textLength="19.70" lengthAdjust="spacingAndGlyphs" fill="#444">2036</text>
<text x="252.6" y="384" text-anchor="middle" font-size="10.4" textLength="19.70" lengthAdjust="spacingAndGlyphs" fill="#444">2038</text>
<text x="283.6" y="384" text-anchor="middle" font-size="10.4" textLength="19.70" lengthAdjust="spacingAndGlyphs" fill="#444">2040</text>
<text x="314.5" y="384" text-anchor="middle" font-size="10.4" textLength="19.70" lengthAdjust="spacingAndGlyphs" fill="#444">2042</text>
<clipPath id="c_ee"><rect x="398" y="219" width="294" height="153"/></clipPath>
<rect x="398.3" y="225.4" width="294" height="147" fill="none" stroke="#f5f5f5" stroke-width="1"/>
<g clip-path="url(#c_ee)"><path d="M398.00,275.80 L399.27,275.88 L400.50,275.96 L401.69,276.04 L402.83,276.11 L403.94,276.17 L405.01,276.24 L406.04,276.30 L407.03,276.35 L407.97,276.40 L408.88,276.45 L409.75,276.49 L410.57,276.53 L411.36,276.57 L412.10,276.60 L412.81,276.63 L413.47,276.65 L414.44,276.68 L415.41,276.72 L416.37,276.75 L417.34,276.78 L418.31,276.81 L419.28,276.84 L420.24,276.86 L421.21,276.88 L422.18,276.90 L423.15,276.91 L424.11,276.91 L425.08,276.91 L426.05,276.90 L427.01,276.89 L427.98,276.86 L428.95,276.83 L429.92,276.78 L430.88,276.72 L431.85,276.64 L432.82,276.54 L433.78,276.44 L434.75,276.33 L435.72,276.22 L436.68,276.10 L437.65,275.99 L438.62,275.88 L439.58,275.77 L440.55,275.68 L441.52,275.59 L442.49,275.52 L443.45,275.47 L444.42,275.44 L445.39,275.43 L446.35,275.42 L447.32,275.43 L448.29,275.45 L449.26,275.47 L450.22,275.51 L451.19,275.55 L452.16,275.60 L453.13,275.66 L454.09,275.72 L455.06,275.79 L456.03,275.86 L457.00,275.93 L457.96,276.01 L458.93,276.08 L459.89,276.16 L460.86,276.25 L461.83,276.35 L462.80,276.47 L463.77,276.60 L464.73,276.74 L465.70,276.89 L466.67,277.03 L467.63,277.18 L468.60,277.32 L469.57,277.45 L470.53,277.57 L471.50,277.68 L472.47,277.78 L473.43,277.85 L474.40,277.90 L475.37,277.93 L476.34,277.91 L477.31,277.83 L478.29,277.71 L479.27,277.55 L480.25,277.37 L481.23,277.17 L482.21,276.97 L483.19,276.77 L484.17,276.58 L485.14,276.42 L486.11,276.29 L487.07,276.21 L488.03,276.19 L488.97,276.23 L489.91,276.35 L490.84,276.55 L491.86,276.92 L492.86,277.45 L493.85,278.11 L494.83,278.89 L495.81,279.76 L496.78,280.68 L497.74,281.64 L498.69,282.61 L499.65,283.56 L500.60,284.46 L501.55,285.30 L502.50,286.04 L503.45,286.66 L504.40,287.13 L505.36,287.42 L506.32,287.52 L507.28,287.40 L508.24,287.06 L509.20,286.55 L510.15,285.89 L511.10,285.09 L512.05,284.21 L513.00,283.25 L513.95,282.25 L514.90,281.23 L515.86,280.23 L516.83,279.26 L517.80,278.37 L518.78,277.57 L519.77,276.89 L520.77,276.36 L521.79,276.01 L522.72,275.83 L523.65,275.75 L524.60,275.75 L525.55,275.83 L526.51,275.96 L527.48,276.15 L528.45,276.37 L529.43,276.63 L530.41,276.90 L531.39,277.19 L532.37,277.47 L533.35,277.73 L534.34,277.98 L535.31,278.18 L536.29,278.35 L537.26,278.45 L538.23,278.51 L539.19,278.55 L540.16,278.57 L541.13,278.58 L542.09,278.57 L543.06,278.55 L544.03,278.52 L545.00,278.49 L545.96,278.45 L546.93,278.42 L547.90,278.38 L548.87,278.35 L549.84,278.33 L550.80,278.33 L551.77,278.33 L552.74,278.35 L553.70,278.38 L554.67,278.42 L555.64,278.47 L556.61,278.52 L557.57,278.57 L558.54,278.63 L559.51,278.70 L560.48,278.77 L561.44,278.84 L562.41,278.91 L563.38,278.99 L564.34,279.06 L565.31,279.14 L566.28,279.22 L567.24,279.30 L568.21,279.38 L569.18,279.46 L570.15,279.55 L571.11,279.64 L572.08,279.73 L573.05,279.83 L574.01,279.92 L574.98,280.02 L575.95,280.12 L576.91,280.22 L577.88,280.32 L578.85,280.42 L579.81,280.52 L580.78,280.61 L581.75,280.70 L582.72,280.78 L583.68,280.86 L584.65,280.94 L585.62,281.03 L586.59,281.13 L587.55,281.23 L588.52,281.33 L589.49,281.43 L590.46,281.53 L591.43,281.62 L592.40,281.70 L593.36,281.77 L594.33,281.83 L595.30,281.87 L596.26,281.89 L597.23,281.89 L598.19,281.87 L599.16,281.82 L600.13,281.74 L601.10,281.63 L602.07,281.49 L603.03,281.33 L604.00,281.15 L604.97,280.96 L605.93,280.75 L606.90,280.53 L607.87,280.30 L608.83,280.07 L609.80,279.84 L610.76,279.61 L611.73,279.39 L612.70,279.17 L613.66,278.97 L614.63,278.79 L615.60,278.61 L616.56,278.40 L617.53,278.19 L618.50,277.97 L619.47,277.75 L620.44,277.52 L621.40,277.30 L622.37,277.09 L623.34,276.89 L624.31,276.71 L625.28,276.55 L626.24,276.42 L627.21,276.31 L628.18,276.24 L629.14,276.20 L630.11,276.21 L631.07,276.27 L632.04,276.39 L633.01,276.56 L633.98,276.78 L634.94,277.02 L635.91,277.30 L636.87,277.59 L637.84,277.90 L638.80,278.21 L639.77,278.51 L640.73,278.79 L641.70,279.06 L642.67,279.30 L643.64,279.49 L644.61,279.64 L645.58,279.74 L646.54,279.79 L647.51,279.80 L648.47,279.79 L649.44,279.75 L650.40,279.69 L651.37,279.60 L652.34,279.50 L653.31,279.39 L654.28,279.27 L655.24,279.14 L656.21,279.00 L657.18,278.87 L658.15,278.73 L659.12,278.61 L660.09,278.49 L661.05,278.38 L662.02,278.28 L662.99,278.17 L663.96,278.06 L664.92,277.95 L665.89,277.84 L666.86,277.72 L667.82,277.61 L668.79,277.49 L669.76,277.37 L670.72,277.25 L671.69,277.13 L672.66,277.01 L673.63,276.90 L674.59,276.78 L675.56,276.66 L676.53,276.55 L677.19,276.47 L677.90,276.39 L678.64,276.31 L679.43,276.22 L680.25,276.12 L681.12,276.02 L682.03,275.92 L682.97,275.81 L683.96,275.70 L684.99,275.58 L686.06,275.46 L687.16,275.34 L688.31,275.21 L689.50,275.07 L690.73,274.93 L692.00,274.79 L692.00,346.19 L690.73,346.28 L689.50,346.37 L688.31,346.45 L687.16,346.53 L686.06,346.61 L684.99,346.69 L683.96,346.76 L682.97,346.83 L682.03,346.90 L681.12,346.96 L680.25,347.02 L679.43,347.08 L678.64,347.14 L677.90,347.19 L677.19,347.24 L676.53,347.29 L675.56,347.37 L674.59,347.46 L673.62,347.56 L672.65,347.67 L671.69,347.78 L670.72,347.89 L669.75,348.01 L668.78,348.11 L667.81,348.21 L666.85,348.30 L665.88,348.37 L664.91,348.43 L663.95,348.46 L662.98,348.47 L662.02,348.46 L661.05,348.41 L660.08,348.33 L659.11,348.22 L658.14,348.09 L657.17,347.93 L656.21,347.75 L655.24,347.56 L654.27,347.35 L653.31,347.12 L652.34,346.89 L651.37,346.65 L650.41,346.41 L649.44,346.17 L648.48,345.94 L647.51,345.70 L646.55,345.48 L645.58,345.27 L644.61,345.06 L643.64,344.84 L642.68,344.61 L641.71,344.37 L640.75,344.13 L639.78,343.88 L638.82,343.64 L637.85,343.40 L636.89,343.16 L635.92,342.94 L634.95,342.72 L633.99,342.52 L633.02,342.33 L632.05,342.16 L631.08,342.01 L630.11,341.88 L629.14,341.78 L628.18,341.70 L627.21,341.63 L626.25,341.59 L625.28,341.56 L624.32,341.54 L623.35,341.54 L622.38,341.54 L621.41,341.55 L620.44,341.55 L619.47,341.57 L618.50,341.57 L617.54,341.58 L616.57,341.58 L615.60,341.57 L614.63,341.55 L613.66,341.53 L612.70,341.50 L611.73,341.48 L610.76,341.46 L609.79,341.45 L608.83,341.43 L607.86,341.41 L606.89,341.39 L605.92,341.36 L604.96,341.33 L603.99,341.30 L603.02,341.26 L602.06,341.22 L601.09,341.17 L600.12,341.11 L599.16,341.04 L598.19,340.96 L597.22,340.88 L596.25,340.78 L595.29,340.68 L594.32,340.57 L593.35,340.46 L592.39,340.34 L591.42,340.22 L590.45,340.10 L589.49,339.98 L588.52,339.85 L587.55,339.73 L586.59,339.61 L585.62,339.49 L584.65,339.37 L583.68,339.26 L582.72,339.15 L581.75,339.05 L580.78,338.94 L579.82,338.84 L578.85,338.74 L577.88,338.64 L576.91,338.53 L575.95,338.43 L574.98,338.33 L574.01,338.23 L573.05,338.12 L572.08,338.02 L571.11,337.92 L570.14,337.81 L569.18,337.70 L568.21,337.59 L567.24,337.48 L566.28,337.36 L565.31,337.25 L564.34,337.13 L563.37,337.01 L562.41,336.89 L561.44,336.77 L560.47,336.65 L559.51,336.53 L558.54,336.41 L557.57,336.29 L556.61,336.17 L555.64,336.05 L554.67,335.93 L553.70,335.82 L552.74,335.70 L551.77,335.58 L550.80,335.47 L549.84,335.35 L548.87,335.24 L547.90,335.12 L546.94,335.00 L545.97,334.89 L545.00,334.77 L544.03,334.66 L543.07,334.54 L542.10,334.43 L541.13,334.32 L540.17,334.22 L539.20,334.11 L538.23,334.01 L537.26,333.91 L536.30,333.80 L535.33,333.69 L534.36,333.56 L533.39,333.42 L532.42,333.28 L531.45,333.15 L530.48,333.01 L529.52,332.89 L528.55,332.77 L527.58,332.67 L526.61,332.59 L525.64,332.53 L524.68,332.49 L523.71,332.48 L522.75,332.50 L521.79,332.56 L520.82,332.67 L519.85,332.84 L518.88,333.06 L517.91,333.33 L516.94,333.62 L515.97,333.94 L515.01,334.28 L514.04,334.62 L513.08,334.95 L512.11,335.27 L511.15,335.58 L510.18,335.85 L509.22,336.08 L508.25,336.26 L507.28,336.38 L506.32,336.43 L505.35,336.42 L504.39,336.35 L503.42,336.23 L502.45,336.06 L501.49,335.86 L500.52,335.63 L499.56,335.38 L498.59,335.11 L497.62,334.83 L496.66,334.54 L495.69,334.26 L494.72,333.99 L493.75,333.73 L492.78,333.50 L491.81,333.29 L490.84,333.12 L489.88,332.98 L488.91,332.84 L487.95,332.72 L486.98,332.61 L486.02,332.50 L485.05,332.40 L484.08,332.31 L483.12,332.22 L482.15,332.14 L481.18,332.06 L480.21,331.98 L479.24,331.91 L478.27,331.84 L477.30,331.78 L476.34,331.71 L475.37,331.64 L474.40,331.57 L473.44,331.52 L472.47,331.46 L471.50,331.41 L470.53,331.36 L469.57,331.32 L468.60,331.28 L467.63,331.24 L466.67,331.20 L465.70,331.17 L464.73,331.13 L463.76,331.09 L462.80,331.06 L461.83,331.02 L460.86,330.98 L459.89,330.94 L458.93,330.90 L457.96,330.86 L456.99,330.82 L456.03,330.78 L455.06,330.74 L454.09,330.70 L453.12,330.66 L452.16,330.62 L451.19,330.58 L450.22,330.54 L449.26,330.50 L448.29,330.46 L447.32,330.41 L446.35,330.37 L445.39,330.32 L444.42,330.27 L443.45,330.22 L442.49,330.16 L441.52,330.11 L440.55,330.06 L439.58,330.00 L438.62,329.94 L437.65,329.88 L436.68,329.82 L435.72,329.76 L434.75,329.70 L433.78,329.63 L432.81,329.57 L431.85,329.50 L430.88,329.43 L429.91,329.36 L428.95,329.29 L427.98,329.22 L427.01,329.14 L426.05,329.06 L425.08,328.98 L424.11,328.89 L423.14,328.81 L422.18,328.72 L421.21,328.63 L420.24,328.54 L419.28,328.45 L418.31,328.37 L417.34,328.28 L416.38,328.19 L415.41,328.11 L414.44,328.02 L413.47,327.94 L412.81,327.88 L412.10,327.83 L411.36,327.76 L410.57,327.70 L409.75,327.63 L408.88,327.56 L407.97,327.49 L407.03,327.41 L406.04,327.34 L405.01,327.25 L403.94,327.17 L402.84,327.08 L401.69,326.99 L400.50,326.90 L399.27,326.80 L398.00,326.70Z" fill="rgba(255,165,0,0.5)"/><path d="M398.00,286.10 L399.27,286.20 L400.50,286.30 L401.69,286.40 L402.83,286.49 L403.94,286.57 L405.01,286.65 L406.04,286.73 L407.02,286.80 L407.97,286.86 L408.88,286.92 L409.75,286.98 L410.57,287.03 L411.36,287.07 L412.10,287.11 L412.81,287.15 L413.47,287.18 L414.44,287.22 L415.41,287.26 L416.37,287.30 L417.34,287.34 L418.31,287.38 L419.28,287.41 L420.24,287.44 L421.21,287.47 L422.18,287.49 L423.15,287.51 L424.11,287.52 L425.08,287.52 L426.05,287.51 L427.01,287.50 L427.98,287.47 L428.95,287.44 L429.92,287.39 L430.88,287.31 L431.85,287.22 L432.82,287.10 L433.79,286.98 L434.75,286.85 L435.72,286.71 L436.69,286.58 L437.66,286.44 L438.62,286.32 L439.59,286.20 L440.56,286.10 L441.52,286.02 L442.49,285.97 L443.45,285.94 L444.42,285.94 L445.39,285.97 L446.36,286.03 L447.32,286.11 L448.29,286.21 L449.26,286.32 L450.23,286.45 L451.19,286.60 L452.16,286.75 L453.13,286.91 L454.10,287.08 L455.06,287.25 L456.03,287.41 L457.00,287.58 L457.96,287.75 L458.93,287.90 L459.89,288.05 L460.86,288.19 L461.83,288.33 L462.80,288.47 L463.77,288.61 L464.74,288.75 L465.70,288.89 L466.67,289.03 L467.64,289.18 L468.61,289.33 L469.57,289.48 L470.54,289.63 L471.51,289.79 L472.47,289.96 L473.44,290.13 L474.40,290.31 L475.37,290.49 L476.34,290.67 L477.32,290.85 L478.29,291.02 L479.27,291.18 L480.25,291.35 L481.23,291.51 L482.20,291.69 L483.18,291.87 L484.15,292.07 L485.12,292.29 L486.09,292.52 L487.05,292.77 L488.01,293.05 L488.96,293.36 L489.90,293.70 L490.84,294.08 L491.84,294.56 L492.84,295.16 L493.82,295.84 L494.80,296.59 L495.77,297.39 L496.74,298.23 L497.70,299.07 L498.66,299.91 L499.62,300.72 L500.57,301.48 L501.53,302.18 L502.48,302.80 L503.44,303.31 L504.39,303.69 L505.35,303.94 L506.32,304.02 L507.28,303.91 L508.24,303.62 L509.20,303.17 L510.15,302.59 L511.11,301.89 L512.06,301.10 L513.01,300.25 L513.97,299.37 L514.92,298.47 L515.89,297.58 L516.85,296.73 L517.82,295.93 L518.80,295.23 L519.79,294.63 L520.78,294.16 L521.79,293.85 L522.72,293.69 L523.67,293.61 L524.62,293.60 L525.57,293.66 L526.54,293.77 L527.50,293.93 L528.47,294.13 L529.45,294.36 L530.43,294.61 L531.40,294.86 L532.38,295.13 L533.36,295.38 L534.34,295.63 L535.32,295.85 L536.29,296.03 L537.26,296.18 L538.23,296.30 L539.20,296.42 L540.16,296.54 L541.13,296.66 L542.09,296.77 L543.06,296.89 L544.03,296.99 L545.00,297.10 L545.96,297.20 L546.93,297.30 L547.90,297.40 L548.86,297.49 L549.83,297.58 L550.80,297.66 L551.77,297.74 L552.74,297.82 L553.70,297.89 L554.67,297.95 L555.64,298.00 L556.60,298.04 L557.57,298.07 L558.54,298.11 L559.51,298.14 L560.47,298.17 L561.44,298.20 L562.41,298.23 L563.38,298.26 L564.34,298.30 L565.31,298.35 L566.28,298.40 L567.24,298.47 L568.21,298.54 L569.18,298.62 L570.15,298.71 L571.12,298.81 L572.08,298.90 L573.05,299.01 L574.02,299.12 L574.99,299.23 L575.95,299.35 L576.92,299.47 L577.89,299.59 L578.86,299.72 L579.82,299.85 L580.79,299.99 L581.75,300.12 L582.72,300.27 L583.68,300.41 L584.65,300.57 L585.62,300.76 L586.59,300.97 L587.56,301.19 L588.53,301.43 L589.49,301.67 L590.46,301.91 L591.43,302.14 L592.40,302.37 L593.36,302.58 L594.33,302.77 L595.30,302.93 L596.26,303.06 L597.23,303.16 L598.19,303.21 L599.16,303.22 L600.13,303.18 L601.09,303.09 L602.06,302.96 L603.03,302.80 L604.00,302.60 L604.96,302.38 L605.93,302.14 L606.90,301.88 L607.86,301.61 L608.83,301.34 L609.80,301.06 L610.76,300.78 L611.73,300.52 L612.70,300.26 L613.66,300.03 L614.63,299.81 L615.60,299.60 L616.56,299.36 L617.53,299.12 L618.50,298.86 L619.47,298.60 L620.44,298.33 L621.40,298.08 L622.37,297.83 L623.34,297.59 L624.31,297.38 L625.28,297.18 L626.24,297.02 L627.21,296.89 L628.18,296.80 L629.14,296.75 L630.11,296.75 L631.07,296.80 L632.04,296.91 L633.01,297.06 L633.98,297.25 L634.95,297.47 L635.91,297.72 L636.88,298.00 L637.84,298.30 L638.81,298.60 L639.78,298.92 L640.74,299.24 L641.71,299.55 L642.68,299.85 L643.64,300.14 L644.61,300.41 L645.58,300.65 L646.54,300.89 L647.51,301.15 L648.48,301.43 L649.45,301.71 L650.42,302.01 L651.38,302.30 L652.35,302.58 L653.32,302.86 L654.29,303.12 L655.26,303.36 L656.23,303.56 L657.19,303.74 L658.16,303.88 L659.13,303.97 L660.09,304.01 L661.05,304.00 L662.02,303.92 L662.99,303.77 L663.96,303.56 L664.93,303.29 L665.89,302.98 L666.85,302.64 L667.82,302.27 L668.78,301.88 L669.74,301.48 L670.71,301.09 L671.67,300.70 L672.64,300.33 L673.61,299.99 L674.58,299.69 L675.55,299.43 L676.53,299.22 L677.18,299.11 L677.88,299.00 L678.63,298.91 L679.41,298.82 L680.23,298.73 L681.09,298.66 L682.00,298.59 L682.95,298.53 L683.93,298.47 L684.96,298.43 L686.03,298.39 L687.14,298.36 L688.30,298.33 L689.49,298.31 L690.72,298.30 L692.00,298.30 L692.00,329.90 L690.73,329.89 L689.50,329.89 L688.31,329.89 L687.16,329.89 L686.05,329.89 L684.98,329.90 L683.96,329.91 L682.97,329.93 L682.02,329.95 L681.12,329.97 L680.25,329.99 L679.42,330.02 L678.64,330.05 L677.89,330.09 L677.19,330.13 L676.53,330.17 L675.56,330.25 L674.59,330.36 L673.62,330.50 L672.65,330.65 L671.68,330.81 L670.71,330.98 L669.74,331.16 L668.78,331.33 L667.81,331.50 L666.84,331.65 L665.88,331.78 L664.91,331.89 L663.94,331.98 L662.98,332.03 L662.02,332.04 L661.05,332.01 L660.08,331.93 L659.11,331.82 L658.14,331.67 L657.17,331.50 L656.20,331.29 L655.24,331.06 L654.27,330.82 L653.30,330.56 L652.34,330.28 L651.37,330.00 L650.41,329.72 L649.44,329.43 L648.48,329.15 L647.51,328.87 L646.54,328.61 L645.58,328.36 L644.61,328.11 L643.64,327.84 L642.68,327.55 L641.71,327.25 L640.75,326.94 L639.78,326.63 L638.82,326.33 L637.85,326.02 L636.89,325.73 L635.92,325.45 L634.96,325.19 L633.99,324.95 L633.02,324.74 L632.05,324.56 L631.08,324.41 L630.11,324.30 L629.14,324.23 L628.18,324.20 L627.22,324.20 L626.25,324.23 L625.29,324.28 L624.32,324.36 L623.35,324.45 L622.38,324.56 L621.41,324.68 L620.44,324.80 L619.47,324.93 L618.50,325.06 L617.54,325.18 L616.57,325.30 L615.60,325.41 L614.63,325.50 L613.66,325.59 L612.70,325.70 L611.73,325.81 L610.76,325.93 L609.79,326.06 L608.83,326.19 L607.86,326.31 L606.89,326.44 L605.93,326.56 L604.96,326.67 L603.99,326.76 L603.02,326.85 L602.06,326.92 L601.09,326.97 L600.12,327.00 L599.16,327.00 L598.19,326.98 L597.22,326.93 L596.26,326.87 L595.29,326.78 L594.32,326.68 L593.35,326.57 L592.39,326.44 L591.42,326.31 L590.45,326.17 L589.49,326.02 L588.52,325.88 L587.55,325.73 L586.59,325.59 L585.62,325.45 L584.65,325.33 L583.68,325.21 L582.72,325.10 L581.75,324.99 L580.78,324.88 L579.82,324.77 L578.85,324.66 L577.88,324.55 L576.92,324.44 L575.95,324.33 L574.98,324.22 L574.01,324.11 L573.05,324.01 L572.08,323.90 L571.11,323.79 L570.15,323.69 L569.18,323.58 L568.21,323.48 L567.24,323.38 L566.28,323.28 L565.31,323.18 L564.34,323.08 L563.38,322.98 L562.41,322.88 L561.44,322.78 L560.47,322.69 L559.51,322.59 L558.54,322.49 L557.57,322.40 L556.61,322.30 L555.64,322.20 L554.67,322.11 L553.70,322.01 L552.74,321.91 L551.77,321.81 L550.80,321.71 L549.84,321.61 L548.87,321.51 L547.90,321.41 L546.93,321.31 L545.97,321.21 L545.00,321.11 L544.03,321.01 L543.07,320.91 L542.10,320.81 L541.13,320.71 L540.17,320.61 L539.20,320.52 L538.23,320.42 L537.26,320.33 L536.29,320.22 L535.32,320.09 L534.35,319.94 L533.38,319.78 L532.40,319.60 L531.43,319.43 L530.45,319.26 L529.48,319.10 L528.50,318.96 L527.53,318.85 L526.56,318.76 L525.60,318.71 L524.64,318.70 L523.68,318.74 L522.73,318.83 L521.79,318.98 L520.80,319.23 L519.82,319.58 L518.84,320.02 L517.88,320.54 L516.91,321.11 L515.96,321.72 L515.00,322.36 L514.05,323.01 L513.09,323.67 L512.14,324.30 L511.18,324.90 L510.22,325.45 L509.26,325.94 L508.28,326.35 L507.30,326.67 L506.32,326.88 L505.37,326.98 L504.42,327.01 L503.46,326.97 L502.50,326.88 L501.54,326.73 L500.57,326.54 L499.60,326.32 L498.63,326.08 L497.66,325.81 L496.68,325.54 L495.71,325.28 L494.73,325.02 L493.76,324.77 L492.79,324.56 L491.81,324.38 L490.84,324.24 L489.88,324.13 L488.91,324.04 L487.95,323.96 L486.98,323.88 L486.01,323.81 L485.05,323.76 L484.08,323.70 L483.11,323.65 L482.14,323.60 L481.17,323.56 L480.21,323.51 L479.24,323.47 L478.27,323.42 L477.30,323.36 L476.34,323.31 L475.37,323.24 L474.40,323.17 L473.43,323.09 L472.47,323.02 L471.50,322.94 L470.53,322.86 L469.57,322.78 L468.60,322.69 L467.63,322.61 L466.67,322.53 L465.70,322.45 L464.73,322.37 L463.76,322.30 L462.80,322.22 L461.83,322.15 L460.86,322.09 L459.89,322.03 L458.93,321.97 L457.96,321.91 L456.99,321.86 L456.03,321.80 L455.06,321.75 L454.09,321.69 L453.13,321.64 L452.16,321.60 L451.19,321.55 L450.22,321.51 L449.26,321.48 L448.29,321.45 L447.32,321.43 L446.36,321.42 L445.39,321.41 L444.42,321.41 L443.45,321.42 L442.49,321.46 L441.52,321.51 L440.55,321.56 L439.58,321.63 L438.62,321.71 L437.65,321.79 L436.68,321.87 L435.71,321.95 L434.75,322.02 L433.78,322.08 L432.81,322.14 L431.85,322.18 L430.88,322.20 L429.91,322.21 L428.95,322.19 L427.98,322.15 L427.01,322.10 L426.04,322.02 L425.08,321.94 L424.11,321.84 L423.14,321.73 L422.18,321.61 L421.21,321.49 L420.24,321.36 L419.27,321.23 L418.31,321.10 L417.34,320.96 L416.37,320.83 L415.41,320.71 L414.44,320.59 L413.47,320.48 L412.81,320.41 L412.10,320.33 L411.36,320.25 L410.57,320.16 L409.75,320.07 L408.88,319.98 L407.97,319.88 L407.03,319.78 L406.04,319.67 L405.01,319.56 L403.94,319.44 L402.84,319.32 L401.69,319.20 L400.50,319.07 L399.27,318.94 L398.00,318.80Z" fill="rgba(255,165,0,0.5)"/><polyline points="398.00,270.90 552.70,270.90 552.70,265.30 692.00,265.30" fill="none" stroke="#ff0000" stroke-opacity="0.7" stroke-width="1.5"/><path d="M398.00,299.66 Q407.08,322.52 413.47,327.50 C418.01,331.03 423.81,330.08 428.95,331.60 C434.13,333.14 439.99,338.69 444.42,336.68 C451.33,333.54 453.24,307.81 459.89,300.26 C464.37,295.18 470.20,294.22 475.37,291.24 C480.52,288.27 485.56,282.93 490.84,282.40 C495.89,281.89 501.17,287.56 506.32,287.51 C511.48,287.46 516.62,283.81 521.79,282.09 C526.93,280.38 532.36,276.21 537.26,277.20 C542.74,278.31 547.28,287.17 552.74,290.36 C557.65,293.24 562.99,295.68 568.21,296.09 C573.31,296.49 578.52,293.97 583.68,293.00 C588.84,292.03 593.99,290.39 599.16,290.25 C604.31,290.11 609.47,291.95 614.63,292.13 C619.78,292.31 625.00,290.74 630.11,291.32 C635.31,291.91 640.37,295.23 645.58,295.73 C650.69,296.22 655.90,294.26 661.05,294.40 C666.22,294.54 671.37,295.85 676.53,296.57 Q681.68,297.29 692.00,298.71" fill="none" stroke="rgb(255,165,0)" stroke-width="1.05"/><path d="M398.00,338.30 Q408.32,338.71 413.47,339.07 C418.64,339.43 423.79,340.34 428.95,340.46 C434.10,340.58 439.35,340.87 444.42,339.81 C449.67,338.72 454.67,335.39 459.89,333.84 C464.99,332.33 470.21,330.60 475.37,330.58 C480.52,330.56 485.99,331.31 490.84,333.74 C496.40,336.52 500.73,345.14 506.32,347.48 C511.15,349.50 516.77,349.53 521.79,348.50 C527.10,347.41 532.77,345.30 537.26,340.60 C543.86,333.69 546.69,315.27 552.74,306.49 C557.37,299.76 562.61,294.36 568.21,290.85 C573.04,287.82 578.48,286.98 583.68,285.55 C588.80,284.15 593.97,283.00 599.16,282.33 C604.29,281.67 609.48,281.96 614.63,281.55 C619.80,281.14 624.94,280.36 630.11,279.88 C635.26,279.40 640.42,279.07 645.58,278.67 C650.74,278.27 655.89,277.88 661.05,277.48 C666.21,277.08 671.37,276.69 676.53,276.29 Q681.68,275.89 692.00,275.09" fill="none" stroke="rgb(255,165,0)" stroke-width="1.25" stroke-dasharray="4.1,4.05"/></g>
<text x="545.0" y="222" text-anchor="middle" font-weight="bold" font-size="10.8" fill="#000">Electric Engagement</text>
<text x="396" y="228.7" text-anchor="end" font-size="10.4" textLength="19.70" lengthAdjust="spacingAndGlyphs" fill="#444">6000</text>
<text x="396" y="258.1" text-anchor="end" font-size="10.4" textLength="19.70" lengthAdjust="spacingAndGlyphs" fill="#444">4000</text>
<text x="396" y="287.5" text-anchor="end" font-size="10.4" textLength="19.70" lengthAdjust="spacingAndGlyphs" fill="#444">2000</text>
<text x="396" y="316.9" text-anchor="end" font-size="10.4" textLength="4.93" lengthAdjust="spacingAndGlyphs" fill="#444">0</text>
<text x="396" y="346.3" text-anchor="end" font-size="10.4" textLength="24.87" lengthAdjust="spacingAndGlyphs" fill="#444">−2000</text>
<text x="396" y="375.7" text-anchor="end" font-size="10.4" textLength="24.87" lengthAdjust="spacingAndGlyphs" fill="#444">−4000</text>
<text x="398.0" y="384" text-anchor="middle" font-size="10.4" textLength="19.70" lengthAdjust="spacingAndGlyphs" fill="#444">2024</text>
<text x="428.9" y="384" text-anchor="middle" font-size="10.4" textLength="19.70" lengthAdjust="spacingAndGlyphs" fill="#444">2026</text>
<text x="459.9" y="384" text-anchor="middle" font-size="10.4" textLength="19.70" lengthAdjust="spacingAndGlyphs" fill="#444">2028</text>
<text x="490.8" y="384" text-anchor="middle" font-size="10.4" textLength="19.70" lengthAdjust="spacingAndGlyphs" fill="#444">2030</text>
<text x="521.8" y="384" text-anchor="middle" font-size="10.4" textLength="19.70" lengthAdjust="spacingAndGlyphs" fill="#444">2032</text>
<text x="552.7" y="384" text-anchor="middle" font-size="10.4" textLength="19.70" lengthAdjust="spacingAndGlyphs" fill="#444">2034</text>
<text x="583.7" y="384" text-anchor="middle" font-size="10.4" textLength="19.70" lengthAdjust="spacingAndGlyphs" fill="#444">2036</text>
<text x="614.6" y="384" text-anchor="middle" font-size="10.4" textLength="19.70" lengthAdjust="spacingAndGlyphs" fill="#444">2038</text>
<text x="645.6" y="384" text-anchor="middle" font-size="10.4" textLength="19.70" lengthAdjust="spacingAndGlyphs" fill="#444">2040</text>
<text x="676.5" y="384" text-anchor="middle" font-size="10.4" textLength="19.70" lengthAdjust="spacingAndGlyphs" fill="#444">2042</text>
<clipPath id="c_he"><rect x="760" y="219" width="293" height="153"/></clipPath>
<rect x="760.3" y="225.4" width="293" height="147" fill="none" stroke="#f5f5f5" stroke-width="1"/>
<g clip-path="url(#c_he)"><path d="M760.00,275.10 L761.26,275.25 L762.49,275.40 L763.67,275.53 L764.82,275.66 L765.92,275.77 L766.99,275.88 L768.01,275.97 L768.99,276.06 L769.94,276.14 L770.84,276.21 L771.71,276.27 L772.53,276.32 L773.31,276.36 L774.06,276.39 L774.76,276.41 L775.42,276.42 L776.38,276.42 L777.35,276.41 L778.31,276.38 L779.28,276.34 L780.24,276.29 L781.20,276.23 L782.17,276.16 L783.13,276.09 L784.09,276.01 L785.06,275.93 L786.02,275.84 L786.99,275.76 L787.95,275.68 L788.91,275.60 L789.88,275.53 L790.84,275.46 L791.81,275.39 L792.77,275.31 L793.73,275.23 L794.70,275.13 L795.66,275.04 L796.63,274.94 L797.59,274.84 L798.56,274.75 L799.52,274.66 L800.48,274.59 L801.45,274.52 L802.41,274.46 L803.37,274.42 L804.34,274.40 L805.30,274.40 L806.26,274.42 L807.23,274.46 L808.19,274.53 L809.16,274.61 L810.12,274.71 L811.09,274.83 L812.05,274.96 L813.01,275.10 L813.98,275.25 L814.94,275.40 L815.90,275.56 L816.87,275.72 L817.83,275.88 L818.79,276.04 L819.76,276.20 L820.72,276.35 L821.68,276.49 L822.65,276.63 L823.61,276.79 L824.58,276.96 L825.54,277.13 L826.50,277.31 L827.47,277.49 L828.43,277.67 L829.39,277.85 L830.36,278.02 L831.32,278.18 L832.28,278.33 L833.25,278.46 L834.21,278.57 L835.18,278.66 L836.14,278.73 L837.11,278.77 L838.07,278.79 L839.03,278.80 L840.00,278.79 L840.97,278.78 L841.94,278.75 L842.91,278.70 L843.88,278.64 L844.85,278.57 L845.82,278.47 L846.78,278.37 L847.75,278.24 L848.71,278.09 L849.67,277.93 L850.63,277.75 L851.58,277.54 L852.53,277.32 L853.51,277.04 L854.48,276.68 L855.45,276.27 L856.42,275.82 L857.38,275.32 L858.34,274.81 L859.30,274.28 L860.25,273.75 L861.21,273.24 L862.17,272.75 L863.12,272.29 L864.08,271.88 L865.04,271.52 L866.01,271.24 L866.98,271.03 L867.95,270.92 L868.90,270.89 L869.86,270.93 L870.83,271.01 L871.80,271.16 L872.77,271.34 L873.74,271.58 L874.71,271.84 L875.68,272.14 L876.65,272.47 L877.62,272.82 L878.59,273.19 L879.56,273.57 L880.52,273.96 L881.47,274.36 L882.42,274.75 L883.37,275.14 L884.35,275.55 L885.34,275.99 L886.32,276.45 L887.29,276.93 L888.26,277.43 L889.23,277.94 L890.20,278.47 L891.16,279.02 L892.12,279.57 L893.08,280.14 L894.04,280.72 L894.99,281.30 L895.94,281.89 L896.89,282.48 L897.84,283.08 L898.79,283.68 L899.77,284.33 L900.73,285.03 L901.69,285.78 L902.64,286.55 L903.59,287.35 L904.54,288.16 L905.48,288.98 L906.43,289.78 L907.37,290.57 L908.32,291.33 L909.28,292.05 L910.24,292.73 L911.22,293.34 L912.20,293.89 L913.20,294.37 L914.21,294.75 L915.14,295.04 L916.08,295.30 L917.04,295.53 L918.01,295.72 L918.98,295.88 L919.97,296.00 L920.96,296.09 L921.94,296.14 L922.93,296.15 L923.92,296.12 L924.90,296.05 L925.87,295.93 L926.83,295.77 L927.78,295.57 L928.71,295.32 L929.63,295.02 L930.66,294.57 L931.66,293.99 L932.64,293.28 L933.60,292.47 L934.55,291.59 L935.49,290.63 L936.42,289.64 L937.34,288.62 L938.27,287.60 L939.20,286.60 L940.14,285.63 L941.09,284.71 L942.05,283.87 L943.03,283.12 L944.03,282.48 L945.05,281.98 L945.97,281.64 L946.89,281.35 L947.83,281.13 L948.78,280.95 L949.74,280.82 L950.70,280.73 L951.67,280.67 L952.65,280.64 L953.63,280.62 L954.61,280.63 L955.59,280.64 L956.57,280.66 L957.55,280.67 L958.53,280.68 L959.51,280.67 L960.47,280.64 L961.44,280.60 L962.40,280.56 L963.36,280.53 L964.33,280.49 L965.29,280.47 L966.26,280.44 L967.22,280.43 L968.19,280.42 L969.15,280.41 L970.12,280.42 L971.08,280.43 L972.05,280.46 L973.01,280.50 L973.97,280.54 L974.93,280.61 L975.89,280.68 L976.86,280.78 L977.83,280.91 L978.79,281.06 L979.76,281.23 L980.72,281.42 L981.68,281.62 L982.64,281.83 L983.61,282.04 L984.57,282.25 L985.53,282.45 L986.49,282.64 L987.46,282.82 L988.42,282.97 L989.38,283.10 L990.35,283.20 L991.32,283.27 L992.28,283.30 L993.24,283.32 L994.20,283.30 L995.17,283.27 L996.13,283.23 L997.09,283.16 L998.06,283.09 L999.02,283.00 L999.99,282.91 L1000.95,282.81 L1001.92,282.71 L1002.88,282.61 L1003.85,282.50 L1004.81,282.41 L1005.77,282.31 L1006.74,282.23 L1007.70,282.15 L1008.67,282.06 L1009.63,281.98 L1010.59,281.89 L1011.56,281.80 L1012.52,281.70 L1013.48,281.61 L1014.45,281.51 L1015.41,281.41 L1016.38,281.31 L1017.34,281.22 L1018.30,281.12 L1019.27,281.02 L1020.23,280.93 L1021.19,280.83 L1022.16,280.74 L1023.12,280.65 L1024.09,280.56 L1025.05,280.47 L1026.01,280.38 L1026.98,280.29 L1027.94,280.20 L1028.90,280.11 L1029.87,280.03 L1030.83,279.94 L1031.80,279.85 L1032.76,279.76 L1033.72,279.67 L1034.69,279.59 L1035.65,279.50 L1036.62,279.41 L1037.58,279.32 L1038.24,279.26 L1038.94,279.19 L1039.69,279.13 L1040.47,279.05 L1041.29,278.98 L1042.16,278.90 L1043.06,278.82 L1044.00,278.73 L1044.99,278.64 L1046.01,278.54 L1047.08,278.45 L1048.18,278.34 L1049.33,278.24 L1050.51,278.13 L1051.73,278.02 L1053.00,277.90 L1053.00,349.10 L1051.73,349.16 L1050.51,349.21 L1049.33,349.26 L1048.18,349.32 L1047.08,349.37 L1046.01,349.41 L1044.99,349.46 L1044.00,349.50 L1043.06,349.54 L1042.16,349.59 L1041.29,349.62 L1040.47,349.66 L1039.69,349.70 L1038.94,349.73 L1038.24,349.76 L1037.58,349.79 L1036.62,349.83 L1035.65,349.88 L1034.69,349.92 L1033.72,349.96 L1032.76,350.01 L1031.80,350.05 L1030.83,350.09 L1029.87,350.14 L1028.90,350.18 L1027.94,350.22 L1026.98,350.27 L1026.01,350.31 L1025.05,350.35 L1024.09,350.39 L1023.12,350.44 L1022.16,350.48 L1021.19,350.52 L1020.23,350.56 L1019.27,350.60 L1018.30,350.64 L1017.34,350.68 L1016.37,350.72 L1015.41,350.76 L1014.45,350.79 L1013.48,350.83 L1012.52,350.87 L1011.56,350.91 L1010.59,350.96 L1009.63,351.00 L1008.66,351.05 L1007.70,351.10 L1006.74,351.15 L1005.77,351.22 L1004.80,351.32 L1003.83,351.43 L1002.86,351.57 L1001.89,351.71 L1000.92,351.86 L999.95,352.00 L998.98,352.14 L998.01,352.26 L997.04,352.36 L996.08,352.43 L995.12,352.47 L994.16,352.47 L993.21,352.43 L992.26,352.33 L991.32,352.18 L990.33,351.94 L989.35,351.62 L988.38,351.23 L987.42,350.78 L986.46,350.28 L985.51,349.74 L984.56,349.18 L983.60,348.60 L982.65,348.01 L981.70,347.44 L980.75,346.87 L979.79,346.34 L978.83,345.84 L977.86,345.40 L976.88,345.01 L975.89,344.70 L974.95,344.46 L974.00,344.26 L973.05,344.09 L972.09,343.95 L971.13,343.84 L970.17,343.76 L969.20,343.69 L968.23,343.64 L967.26,343.60 L966.29,343.56 L965.32,343.54 L964.35,343.51 L963.38,343.49 L962.41,343.46 L961.44,343.41 L960.47,343.36 L959.51,343.30 L958.55,343.24 L957.58,343.19 L956.62,343.15 L955.66,343.10 L954.69,343.06 L953.73,343.02 L952.76,342.98 L951.80,342.95 L950.84,342.91 L949.87,342.88 L948.91,342.85 L947.94,342.81 L946.98,342.78 L946.02,342.74 L945.05,342.71 L944.09,342.68 L943.12,342.66 L942.16,342.65 L941.19,342.64 L940.23,342.64 L939.26,342.63 L938.30,342.63 L937.33,342.62 L936.37,342.61 L935.40,342.59 L934.44,342.57 L933.48,342.53 L932.51,342.48 L931.55,342.41 L930.59,342.32 L929.63,342.22 L928.66,342.09 L927.70,341.94 L926.73,341.76 L925.77,341.56 L924.81,341.35 L923.84,341.13 L922.88,340.89 L921.92,340.66 L920.96,340.42 L920.00,340.18 L919.03,339.95 L918.07,339.73 L917.11,339.52 L916.14,339.33 L915.18,339.15 L914.21,339.00 L913.25,338.87 L912.29,338.75 L911.33,338.65 L910.36,338.56 L909.40,338.48 L908.44,338.40 L907.47,338.34 L906.51,338.27 L905.54,338.21 L904.58,338.16 L903.61,338.10 L902.65,338.04 L901.68,337.98 L900.72,337.91 L899.75,337.83 L898.79,337.75 L897.83,337.66 L896.86,337.57 L895.90,337.48 L894.93,337.38 L893.97,337.29 L893.01,337.19 L892.04,337.09 L891.08,336.99 L890.11,336.89 L889.15,336.79 L888.19,336.69 L887.22,336.59 L886.26,336.49 L885.30,336.39 L884.33,336.30 L883.37,336.20 L882.40,336.10 L881.44,336.01 L880.48,335.91 L879.51,335.81 L878.55,335.71 L877.59,335.61 L876.62,335.51 L875.66,335.41 L874.70,335.31 L873.73,335.22 L872.77,335.12 L871.80,335.03 L870.84,334.93 L869.88,334.84 L868.91,334.76 L867.95,334.67 L866.98,334.59 L866.02,334.51 L865.06,334.43 L864.09,334.35 L863.13,334.28 L862.17,334.20 L861.20,334.13 L860.24,334.06 L859.27,333.99 L858.31,333.92 L857.35,333.85 L856.38,333.78 L855.42,333.71 L854.45,333.64 L853.49,333.56 L852.53,333.49 L851.56,333.42 L850.60,333.34 L849.63,333.27 L848.67,333.20 L847.71,333.13 L846.74,333.05 L845.78,332.98 L844.81,332.91 L843.85,332.83 L842.89,332.76 L841.92,332.68 L840.96,332.61 L840.00,332.53 L839.03,332.45 L838.07,332.36 L837.11,332.28 L836.14,332.19 L835.18,332.10 L834.21,332.01 L833.25,331.92 L832.28,331.82 L831.32,331.73 L830.36,331.63 L829.39,331.53 L828.43,331.43 L827.47,331.33 L826.50,331.23 L825.54,331.13 L824.58,331.03 L823.61,330.93 L822.65,330.83 L821.68,330.73 L820.72,330.63 L819.76,330.51 L818.79,330.39 L817.83,330.27 L816.87,330.14 L815.90,330.02 L814.94,329.89 L813.98,329.77 L813.01,329.65 L812.05,329.54 L811.08,329.43 L810.12,329.34 L809.16,329.26 L808.19,329.19 L807.23,329.14 L806.26,329.11 L805.30,329.10 L804.34,329.11 L803.37,329.15 L802.41,329.20 L801.45,329.27 L800.48,329.35 L799.52,329.43 L798.55,329.52 L797.59,329.61 L796.63,329.70 L795.66,329.78 L794.70,329.86 L793.73,329.92 L792.77,329.97 L791.81,330.00 L790.84,330.01 L789.88,330.00 L788.91,329.99 L787.95,329.96 L786.99,329.92 L786.02,329.88 L785.06,329.83 L784.09,329.77 L783.13,329.71 L782.16,329.64 L781.20,329.56 L780.24,329.48 L779.27,329.40 L778.31,329.31 L777.35,329.22 L776.38,329.13 L775.42,329.04 L774.76,328.97 L774.05,328.90 L773.31,328.82 L772.53,328.72 L771.70,328.63 L770.84,328.52 L769.94,328.40 L768.99,328.28 L768.01,328.15 L766.98,328.01 L765.92,327.86 L764.82,327.70 L763.67,327.54 L762.49,327.37 L761.26,327.19 L760.00,327.00Z" fill="rgba(65,105,225,0.5)"/><path d="M760.00,285.10 L761.26,285.26 L762.49,285.41 L763.67,285.56 L764.82,285.70 L765.92,285.83 L766.98,285.96 L768.01,286.08 L768.99,286.19 L769.94,286.30 L770.84,286.39 L771.70,286.49 L772.53,286.57 L773.31,286.65 L774.05,286.72 L774.76,286.78 L775.42,286.84 L776.38,286.92 L777.35,287.00 L778.31,287.08 L779.27,287.15 L780.24,287.22 L781.20,287.29 L782.17,287.36 L783.13,287.42 L784.09,287.48 L785.06,287.53 L786.02,287.57 L786.99,287.61 L787.95,287.64 L788.91,287.66 L789.88,287.68 L790.84,287.68 L791.81,287.67 L792.77,287.63 L793.74,287.57 L794.70,287.50 L795.67,287.42 L796.63,287.33 L797.60,287.23 L798.56,287.13 L799.53,287.04 L800.49,286.96 L801.45,286.89 L802.42,286.83 L803.38,286.80 L804.34,286.78 L805.30,286.80 L806.26,286.85 L807.23,286.92 L808.21,286.99 L809.18,287.07 L810.16,287.17 L811.14,287.27 L812.11,287.39 L813.09,287.52 L814.07,287.68 L815.04,287.85 L816.00,288.05 L816.97,288.27 L817.93,288.52 L818.88,288.80 L819.82,289.11 L820.76,289.45 L821.68,289.83 L822.69,290.32 L823.68,290.91 L824.65,291.58 L825.61,292.32 L826.56,293.12 L827.51,293.95 L828.45,294.80 L829.39,295.66 L830.32,296.50 L831.26,297.33 L832.21,298.11 L833.16,298.84 L834.13,299.50 L835.10,300.08 L836.10,300.55 L837.11,300.91 L838.03,301.15 L838.97,301.32 L839.92,301.45 L840.87,301.52 L841.84,301.55 L842.81,301.54 L843.78,301.48 L844.76,301.40 L845.74,301.28 L846.72,301.14 L847.70,300.98 L848.68,300.80 L849.65,300.61 L850.61,300.40 L851.57,300.19 L852.53,299.98 L853.51,299.72 L854.48,299.39 L855.45,298.99 L856.42,298.55 L857.38,298.07 L858.34,297.56 L859.30,297.04 L860.26,296.53 L861.22,296.02 L862.18,295.54 L863.13,295.09 L864.09,294.69 L865.05,294.36 L866.02,294.09 L866.98,293.91 L867.95,293.83 L868.91,293.84 L869.87,293.94 L870.83,294.10 L871.79,294.33 L872.75,294.61 L873.72,294.93 L874.68,295.30 L875.64,295.69 L876.61,296.11 L877.58,296.54 L878.54,296.97 L879.51,297.40 L880.47,297.81 L881.44,298.21 L882.40,298.58 L883.37,298.91 L884.33,299.22 L885.29,299.53 L886.26,299.83 L887.22,300.14 L888.18,300.44 L889.15,300.74 L890.11,301.05 L891.07,301.35 L892.04,301.65 L893.00,301.95 L893.97,302.25 L894.93,302.54 L895.90,302.84 L896.86,303.14 L897.82,303.43 L898.79,303.73 L899.75,304.02 L900.72,304.32 L901.68,304.61 L902.64,304.89 L903.61,305.18 L904.57,305.47 L905.54,305.76 L906.50,306.04 L907.46,306.33 L908.43,306.61 L909.39,306.90 L910.36,307.19 L911.32,307.48 L912.28,307.77 L913.25,308.06 L914.21,308.35 L915.18,308.67 L916.14,309.03 L917.11,309.43 L918.09,309.85 L919.06,310.28 L920.03,310.72 L921.00,311.15 L921.97,311.57 L922.94,311.96 L923.91,312.31 L924.87,312.62 L925.83,312.88 L926.79,313.07 L927.74,313.18 L928.69,313.21 L929.63,313.15 L930.62,312.96 L931.59,312.64 L932.56,312.20 L933.52,311.66 L934.47,311.05 L935.42,310.37 L936.37,309.64 L937.32,308.89 L938.27,308.13 L939.22,307.37 L940.17,306.63 L941.13,305.93 L942.10,305.29 L943.07,304.72 L944.06,304.25 L945.05,303.88 L945.99,303.62 L946.93,303.42 L947.88,303.26 L948.83,303.14 L949.79,303.06 L950.76,303.01 L951.72,302.98 L952.69,302.98 L953.67,302.99 L954.64,303.01 L955.62,303.03 L956.59,303.06 L957.57,303.08 L958.54,303.09 L959.51,303.09 L960.47,303.06 L961.44,303.02 L962.40,302.96 L963.37,302.90 L964.33,302.84 L965.30,302.78 L966.26,302.71 L967.23,302.65 L968.20,302.59 L969.16,302.55 L970.13,302.51 L971.09,302.49 L972.05,302.48 L973.02,302.50 L973.98,302.53 L974.94,302.59 L975.89,302.67 L976.86,302.79 L977.83,302.95 L978.80,303.15 L979.76,303.38 L980.72,303.63 L981.68,303.90 L982.64,304.19 L983.61,304.47 L984.57,304.76 L985.53,305.04 L986.49,305.31 L987.45,305.56 L988.41,305.78 L989.38,305.98 L990.35,306.13 L991.32,306.25 L992.27,306.33 L993.23,306.37 L994.20,306.40 L995.16,306.40 L996.12,306.38 L997.09,306.35 L998.05,306.30 L999.02,306.24 L999.98,306.17 L1000.95,306.09 L1001.91,306.01 L1002.88,305.93 L1003.84,305.85 L1004.81,305.78 L1005.77,305.71 L1006.74,305.65 L1007.70,305.59 L1008.67,305.54 L1009.63,305.47 L1010.59,305.41 L1011.56,305.34 L1012.52,305.27 L1013.48,305.20 L1014.45,305.13 L1015.41,305.05 L1016.38,304.98 L1017.34,304.90 L1018.30,304.83 L1019.27,304.76 L1020.23,304.69 L1021.19,304.62 L1022.16,304.55 L1023.12,304.48 L1024.09,304.42 L1025.05,304.35 L1026.01,304.29 L1026.98,304.23 L1027.94,304.16 L1028.90,304.10 L1029.87,304.04 L1030.83,303.97 L1031.80,303.91 L1032.76,303.85 L1033.72,303.78 L1034.69,303.72 L1035.65,303.66 L1036.62,303.59 L1037.58,303.53 L1038.24,303.49 L1038.94,303.44 L1039.69,303.39 L1040.47,303.34 L1041.29,303.28 L1042.16,303.22 L1043.06,303.16 L1044.00,303.10 L1044.99,303.04 L1046.01,302.97 L1047.08,302.90 L1048.18,302.82 L1049.33,302.75 L1050.51,302.67 L1051.73,302.58 L1053.00,302.50 L1053.00,329.90 L1051.73,329.94 L1050.51,329.98 L1049.33,330.02 L1048.18,330.06 L1047.08,330.10 L1046.01,330.14 L1044.99,330.17 L1044.00,330.20 L1043.06,330.24 L1042.16,330.27 L1041.29,330.30 L1040.47,330.32 L1039.69,330.35 L1038.94,330.37 L1038.24,330.40 L1037.58,330.42 L1036.62,330.45 L1035.65,330.48 L1034.69,330.52 L1033.72,330.55 L1032.76,330.58 L1031.80,330.61 L1030.83,330.64 L1029.87,330.68 L1028.90,330.71 L1027.94,330.74 L1026.98,330.77 L1026.01,330.80 L1025.05,330.83 L1024.09,330.87 L1023.12,330.90 L1022.16,330.93 L1021.19,330.96 L1020.23,330.99 L1019.27,331.02 L1018.30,331.05 L1017.34,331.08 L1016.37,331.11 L1015.41,331.14 L1014.45,331.17 L1013.48,331.20 L1012.52,331.23 L1011.56,331.26 L1010.59,331.30 L1009.63,331.33 L1008.66,331.36 L1007.70,331.40 L1006.74,331.44 L1005.77,331.49 L1004.81,331.56 L1003.84,331.64 L1002.87,331.74 L1001.91,331.84 L1000.94,331.94 L999.97,332.05 L999.00,332.14 L998.04,332.23 L997.07,332.30 L996.11,332.35 L995.15,332.38 L994.19,332.38 L993.23,332.36 L992.27,332.29 L991.32,332.19 L990.34,332.03 L989.37,331.82 L988.41,331.56 L987.44,331.25 L986.48,330.92 L985.52,330.56 L984.56,330.18 L983.61,329.80 L982.65,329.41 L981.69,329.03 L980.73,328.66 L979.77,328.31 L978.80,327.99 L977.84,327.72 L976.87,327.48 L975.89,327.30 L974.94,327.17 L973.98,327.07 L973.03,327.00 L972.06,326.95 L971.10,326.93 L970.14,326.92 L969.17,326.93 L968.21,326.96 L967.24,327.00 L966.27,327.04 L965.30,327.08 L964.34,327.13 L963.37,327.18 L962.40,327.22 L961.44,327.25 L960.47,327.27 L959.51,327.28 L958.54,327.28 L957.58,327.29 L956.61,327.28 L955.65,327.28 L954.68,327.28 L953.72,327.28 L952.75,327.29 L951.79,327.30 L950.82,327.33 L949.86,327.36 L948.89,327.40 L947.93,327.46 L946.97,327.54 L946.01,327.64 L945.05,327.75 L944.08,327.90 L943.11,328.10 L942.15,328.34 L941.18,328.60 L940.22,328.89 L939.25,329.20 L938.29,329.51 L937.33,329.82 L936.36,330.12 L935.40,330.41 L934.44,330.67 L933.48,330.90 L932.52,331.09 L931.56,331.23 L930.59,331.31 L929.63,331.33 L928.67,331.28 L927.70,331.17 L926.74,331.00 L925.78,330.78 L924.82,330.53 L923.86,330.24 L922.89,329.92 L921.93,329.59 L920.97,329.25 L920.01,328.91 L919.05,328.58 L918.08,328.26 L917.12,327.96 L916.15,327.69 L915.18,327.46 L914.21,327.27 L913.25,327.12 L912.29,326.99 L911.33,326.87 L910.37,326.77 L909.41,326.68 L908.45,326.61 L907.48,326.54 L906.52,326.48 L905.55,326.43 L904.58,326.39 L903.62,326.35 L902.65,326.32 L901.69,326.28 L900.72,326.25 L899.75,326.22 L898.79,326.18 L897.83,326.15 L896.86,326.12 L895.90,326.10 L894.94,326.09 L893.97,326.08 L893.01,326.07 L892.04,326.07 L891.08,326.07 L890.12,326.08 L889.15,326.08 L888.19,326.08 L887.22,326.09 L886.26,326.09 L885.30,326.08 L884.33,326.08 L883.37,326.07 L882.40,326.06 L881.44,326.04 L880.48,326.03 L879.51,326.02 L878.55,326.00 L877.59,325.98 L876.62,325.97 L875.66,325.95 L874.69,325.93 L873.73,325.91 L872.77,325.90 L871.80,325.88 L870.84,325.86 L869.87,325.84 L868.91,325.83 L867.95,325.81 L866.98,325.80 L866.02,325.79 L865.06,325.78 L864.09,325.78 L863.13,325.78 L862.16,325.78 L861.20,325.78 L860.23,325.78 L859.27,325.77 L858.31,325.76 L857.34,325.74 L856.38,325.72 L855.41,325.69 L854.45,325.66 L853.49,325.61 L852.53,325.55 L851.56,325.48 L850.60,325.40 L849.63,325.31 L848.67,325.21 L847.70,325.10 L846.74,324.99 L845.78,324.87 L844.81,324.74 L843.85,324.62 L842.89,324.49 L841.92,324.36 L840.96,324.23 L840.00,324.11 L839.03,323.98 L838.07,323.86 L837.11,323.75 L836.14,323.64 L835.18,323.53 L834.21,323.42 L833.25,323.31 L832.29,323.20 L831.32,323.09 L830.36,322.98 L829.39,322.87 L828.43,322.76 L827.47,322.66 L826.50,322.55 L825.54,322.44 L824.58,322.33 L823.61,322.21 L822.65,322.10 L821.68,321.99 L820.72,321.87 L819.76,321.74 L818.79,321.61 L817.83,321.47 L816.87,321.33 L815.90,321.19 L814.94,321.04 L813.98,320.90 L813.01,320.77 L812.05,320.64 L811.09,320.52 L810.12,320.42 L809.16,320.32 L808.19,320.24 L807.23,320.18 L806.26,320.13 L805.30,320.10 L804.34,320.10 L803.37,320.11 L802.41,320.13 L801.45,320.17 L800.48,320.22 L799.52,320.28 L798.56,320.34 L797.59,320.41 L796.63,320.48 L795.66,320.55 L794.70,320.62 L793.73,320.69 L792.77,320.75 L791.81,320.80 L790.84,320.85 L789.88,320.90 L788.91,320.95 L787.95,321.01 L786.98,321.07 L786.02,321.14 L785.05,321.21 L784.09,321.28 L783.13,321.34 L782.16,321.39 L781.20,321.44 L780.23,321.47 L779.27,321.49 L778.31,321.50 L777.34,321.49 L776.38,321.46 L775.42,321.41 L774.76,321.36 L774.05,321.30 L773.31,321.21 L772.52,321.12 L771.70,321.01 L770.83,320.88 L769.93,320.74 L768.99,320.59 L768.00,320.42 L766.98,320.23 L765.92,320.03 L764.81,319.81 L763.67,319.58 L762.49,319.34 L761.26,319.08 L760.00,318.80Z" fill="rgba(65,105,225,0.5)"/><polyline points="760.00,270.90 914.20,270.90 914.20,265.30 1053.00,265.30" fill="none" stroke="#ff0000" stroke-opacity="0.7" stroke-width="1.5"/><path d="M760.00,297.50 Q771.00,290.46 775.42,292.47 C782.31,295.61 783.85,323.24 790.84,328.79 C795.25,332.29 801.87,333.90 806.26,331.48 C813.31,327.61 814.65,300.14 821.68,294.30 C826.08,290.65 832.14,293.08 837.11,291.05 C842.45,288.86 847.24,281.76 852.53,281.20 C857.54,280.67 862.99,287.66 867.95,286.95 C873.30,286.18 877.96,278.01 883.37,275.45 C888.29,273.12 893.89,270.58 898.79,271.63 C904.23,272.80 908.91,280.30 914.21,283.74 C919.21,286.98 924.35,291.12 929.63,291.88 C934.65,292.60 939.90,289.72 945.05,288.77 C950.19,287.82 955.33,286.20 960.47,286.17 C965.61,286.14 970.74,288.35 975.89,288.61 C981.02,288.86 986.25,286.99 991.32,287.72 C996.53,288.47 1001.52,292.27 1006.74,293.22 C1011.80,294.15 1017.04,292.94 1022.16,293.51 C1027.33,294.09 1032.41,296.01 1037.58,296.69 Q1042.70,297.36 1053.00,297.60" fill="none" stroke="rgb(65,105,225)" stroke-width="1.05"/><path d="M760.00,338.30 Q770.29,338.36 775.42,338.65 C780.57,338.94 785.71,340.14 790.84,340.02 C795.99,339.90 801.17,339.06 806.26,337.90 C811.46,336.71 816.48,333.83 821.68,332.91 C826.76,332.01 831.96,332.42 837.11,332.33 C842.24,332.24 847.72,330.50 852.53,332.36 C858.11,334.52 862.37,343.95 867.95,346.32 C872.76,348.36 878.35,348.31 883.37,347.37 C888.64,346.38 894.33,344.71 898.79,340.15 C905.46,333.32 907.96,313.58 914.21,305.19 C918.76,299.08 924.17,295.08 929.63,292.06 C934.51,289.37 939.88,288.60 945.05,287.23 C950.16,285.87 955.30,284.55 960.47,283.86 C965.59,283.18 970.76,283.49 975.89,283.10 C981.04,282.71 986.17,281.91 991.32,281.54 C996.45,281.17 1001.60,281.13 1006.74,280.88 C1011.88,280.63 1017.02,280.32 1022.16,280.04 C1027.30,279.76 1032.44,279.49 1037.58,279.22 Q1042.72,278.95 1053.00,278.40" fill="none" stroke="rgb(65,105,225)" stroke-width="1.25" stroke-dasharray="4.1,4.05"/></g>
<text x="906.5" y="222" text-anchor="middle" font-weight="bold" font-size="10.8" fill="#000">Hydrogen Evolution</text>
<text x="758" y="228.7" text-anchor="end" font-size="10.4" textLength="19.70" lengthAdjust="spacingAndGlyphs" fill="#444">6000</text>
<text x="758" y="258.1" text-anchor="end" font-size="10.4" textLength="19.70" lengthAdjust="spacingAndGlyphs" fill="#444">4000</text>
<text x="758" y="287.5" text-anchor="end" font-size="10.4" textLength="19.70" lengthAdjust="spacingAndGlyphs" fill="#444">2000</text>
<text x="758" y="316.9" text-anchor="end" font-size="10.4" textLength="4.93" lengthAdjust="spacingAndGlyphs" fill="#444">0</text>
<text x="758" y="346.3" text-anchor="end" font-size="10.4" textLength="24.87" lengthAdjust="spacingAndGlyphs" fill="#444">−2000</text>
<text x="758" y="375.7" text-anchor="end" font-size="10.4" textLength="24.87" lengthAdjust="spacingAndGlyphs" fill="#444">−4000</text>
<text x="760.0" y="384" text-anchor="middle" font-size="10.4" textLength="19.70" lengthAdjust="spacingAndGlyphs" fill="#444">2024</text>
<text x="790.8" y="384" text-anchor="middle" font-size="10.4" textLength="19.70" lengthAdjust="spacingAndGlyphs" fill="#444">2026</text>
<text x="821.7" y="384" text-anchor="middle" font-size="10.4" textLength="19.70" lengthAdjust="spacingAndGlyphs" fill="#444">2028</text>
<text x="852.5" y="384" text-anchor="middle" font-size="10.4" textLength="19.70" lengthAdjust="spacingAndGlyphs" fill="#444">2030</text>
<text x="883.4" y="384" text-anchor="middle" font-size="10.4" textLength="19.70" lengthAdjust="spacingAndGlyphs" fill="#444">2032</text>
<text x="914.2" y="384" text-anchor="middle" font-size="10.4" textLength="19.70" lengthAdjust="spacingAndGlyphs" fill="#444">2034</text>
<text x="945.1" y="384" text-anchor="middle" font-size="10.4" textLength="19.70" lengthAdjust="spacingAndGlyphs" fill="#444">2036</text>
<text x="975.9" y="384" text-anchor="middle" font-size="10.4" textLength="19.70" lengthAdjust="spacingAndGlyphs" fill="#444">2038</text>
<text x="1006.7" y="384" text-anchor="middle" font-size="10.4" textLength="19.70" lengthAdjust="spacingAndGlyphs" fill="#444">2040</text>
<text x="1037.6" y="384" text-anchor="middle" font-size="10.4" textLength="19.70" lengthAdjust="spacingAndGlyphs" fill="#444">2042</text>
<line x1="128" y1="69.7" x2="143.5" y2="69.7" stroke="#7090e8" stroke-width="1.4"/>
<text x="145.4" y="73.2" font-size="10.4" textLength="58.45" lengthAdjust="spacingAndGlyphs" fill="#444">Economy RT</text>
<line x1="128" y1="89.92" x2="143.5" y2="89.92" stroke="#7090e8" stroke-width="1.4" stroke-dasharray="4.6,4.4"/>
<text x="145.4" y="93.4" font-size="10.4" textLength="52.81" lengthAdjust="spacingAndGlyphs" fill="#444">Security RT</text>
<line x1="128" y1="110.14" x2="143.5" y2="110.14" stroke="#a0b4f0" stroke-width="3"/>
<text x="145.4" y="113.6" font-size="10.4" textLength="20.30" lengthAdjust="spacingAndGlyphs" fill="#444">90%</text>
<line x1="128" y1="130.36" x2="143.5" y2="130.36" stroke="#a0b4f0" stroke-width="3"/>
<text x="145.4" y="133.9" font-size="10.4" textLength="20.30" lengthAdjust="spacingAndGlyphs" fill="#444">50%</text>
<line x1="128" y1="150.57999999999998" x2="143.5" y2="150.57999999999998" stroke="#ff3333" stroke-width="1.4"/>
<text x="145.4" y="154.1" font-size="10.4" textLength="44.56" lengthAdjust="spacingAndGlyphs" fill="#444">Capability</text>
</svg></body></html>
